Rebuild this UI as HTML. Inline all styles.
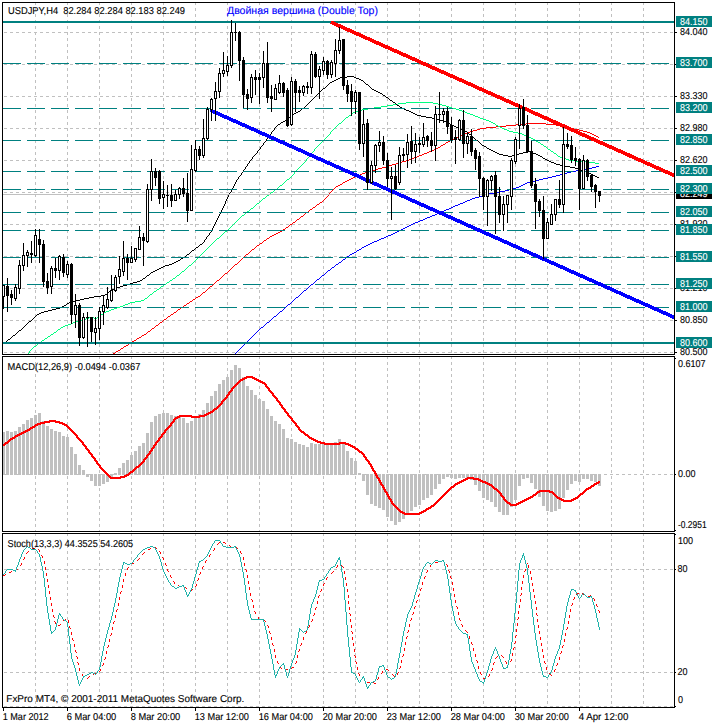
<!DOCTYPE html>
<html><head><meta charset="utf-8"><title>USDJPY,H4</title>
<style>html,body{margin:0;padding:0;background:#fff}svg{display:block}text{font-family:"Liberation Sans",sans-serif;text-rendering:geometricPrecision}</style></head><body>
<svg width="712" height="724" viewBox="0 0 712 724">
<rect width="712" height="724" fill="#fff"/>
<g shape-rendering="crispEdges" stroke="#c0c0c0" stroke-width="1" stroke-dasharray="3 3" fill="none">
<path d="M35.5 2V354"/>
<path d="M67.5 2V354"/>
<path d="M99.5 2V354"/>
<path d="M131.5 2V354"/>
<path d="M163.5 2V354"/>
<path d="M195.5 2V354"/>
<path d="M227.5 2V354"/>
<path d="M259.5 2V354"/>
<path d="M291.5 2V354"/>
<path d="M323.5 2V354"/>
<path d="M355.5 2V354"/>
<path d="M387.5 2V354"/>
<path d="M419.5 2V354"/>
<path d="M451.5 2V354"/>
<path d="M483.5 2V354"/>
<path d="M515.5 2V354"/>
<path d="M547.5 2V354"/>
<path d="M579.5 2V354"/>
<path d="M611.5 2V354"/>
<path d="M643.5 2V354"/>
<path d="M35.5 356V531"/>
<path d="M67.5 356V531"/>
<path d="M99.5 356V531"/>
<path d="M131.5 356V531"/>
<path d="M163.5 356V531"/>
<path d="M195.5 356V531"/>
<path d="M227.5 356V531"/>
<path d="M259.5 356V531"/>
<path d="M291.5 356V531"/>
<path d="M323.5 356V531"/>
<path d="M355.5 356V531"/>
<path d="M387.5 356V531"/>
<path d="M419.5 356V531"/>
<path d="M451.5 356V531"/>
<path d="M483.5 356V531"/>
<path d="M515.5 356V531"/>
<path d="M547.5 356V531"/>
<path d="M579.5 356V531"/>
<path d="M611.5 356V531"/>
<path d="M643.5 356V531"/>
<path d="M35.5 533V707"/>
<path d="M67.5 533V707"/>
<path d="M99.5 533V707"/>
<path d="M131.5 533V707"/>
<path d="M163.5 533V707"/>
<path d="M195.5 533V707"/>
<path d="M227.5 533V707"/>
<path d="M259.5 533V707"/>
<path d="M291.5 533V707"/>
<path d="M323.5 533V707"/>
<path d="M355.5 533V707"/>
<path d="M387.5 533V707"/>
<path d="M419.5 533V707"/>
<path d="M451.5 533V707"/>
<path d="M483.5 533V707"/>
<path d="M515.5 533V707"/>
<path d="M547.5 533V707"/>
<path d="M579.5 533V707"/>
<path d="M611.5 533V707"/>
<path d="M643.5 533V707"/>
<path d="M4 32.5H674"/>
<path d="M4 64.5H674"/>
<path d="M4 96.5H674"/>
<path d="M4 128.5H674"/>
<path d="M4 160.5H674"/>
<path d="M4 192.5H674"/>
<path d="M4 224.5H674"/>
<path d="M4 256.5H674"/>
<path d="M4 288.5H674"/>
<path d="M4 320.5H674"/>
<path d="M4 352.5H674"/>
<path d="M4 474.5H674"/>
<path d="M4 569.5H674"/>
<path d="M4 672.5H674"/>
<path d="M4 706.5H674"/>
</g>
<g shape-rendering="crispEdges">
<path fill="#0000ff" d="M596 166h3v1h-3zM592 167h4v1h-4zM587 168h5v1h-5zM582 169h5v1h-5zM576 170h6v1h-6zM571 171h5v1h-5zM567 172h4v1h-4zM563 173h4v1h-4zM560 174h3v1h-3zM556 175h4v1h-4zM552 176h4v1h-4zM548 177h4v1h-4zM543 178h5v1h-5zM539 179h4v1h-4zM535 180h4v1h-4zM531 181h4v1h-4zM527 182h4v1h-4zM525 183h2v1h-2zM523 184h2v1h-2zM521 185h2v1h-2zM519 186h2v1h-2zM516 187h3v1h-3zM512 188h4v1h-4zM509 189h3v1h-3zM505 190h4v1h-4zM500 191h5v1h-5zM494 192h6v1h-6zM489 193h5v1h-5zM485 194h4v1h-4zM482 195h3v1h-3zM479 196h3v1h-3zM475 197h4v1h-4zM472 198h3v1h-3zM470 199h2v1h-2zM467 200h3v1h-3zM465 201h2v1h-2zM463 202h2v1h-2zM460 203h3v1h-3zM458 204h2v1h-2zM455 205h3v1h-3zM453 206h2v1h-2zM451 207h2v1h-2zM449 208h2v1h-2zM446 209h3v1h-3zM444 210h2v1h-2zM442 211h2v1h-2zM439 212h3v1h-3zM437 213h2v1h-2zM435 214h2v1h-2zM432 215h3v1h-3zM430 216h2v1h-2zM427 217h3v1h-3zM425 218h2v1h-2zM423 219h2v1h-2zM420 220h3v1h-3zM418 221h2v1h-2zM415 222h3v1h-3zM413 223h2v1h-2zM411 224h2v1h-2zM409 225h2v1h-2zM407 226h2v1h-2zM405 227h2v1h-2zM403 228h2v1h-2zM401 229h2v1h-2zM399 230h2v1h-2zM397 231h2v1h-2zM395 232h2v1h-2zM393 233h2v1h-2zM391 234h2v1h-2zM388 235h3v1h-3zM386 236h2v1h-2zM384 237h2v1h-2zM381 238h3v1h-3zM379 239h2v1h-2zM377 240h2v1h-2zM374 241h3v1h-3zM372 242h2v1h-2zM370 243h2v1h-2zM368 244h2v1h-2zM366 245h2v1h-2zM364 246h2v1h-2zM362 247h2v1h-2zM361 248h1v1h-1zM359 249h2v1h-2zM357 250h2v1h-2zM356 251h1v1h-1zM354 252h2v1h-2zM352 253h2v1h-2zM350 254h2v1h-2zM349 255h1v1h-1zM347 256h2v1h-2zM346 257h1v1h-1zM345 258h1v1h-1zM343 259h2v1h-2zM342 260h1v1h-1zM341 261h1v1h-1zM339 262h2v1h-2zM338 263h1v1h-1zM336 264h2v1h-2zM335 265h1v1h-1zM334 266h1v1h-1zM332 267h2v1h-2zM331 268h1v1h-1zM330 269h1v1h-1zM328 270h2v1h-2zM327 271h1v1h-1zM326 272h1v1h-1zM325 273h1v1h-1zM324 274h1v1h-1zM322 275h2v1h-2zM321 276h1v1h-1zM320 277h1v1h-1zM319 278h1v1h-1zM317 279h2v1h-2zM316 280h1v1h-1zM315 281h1v1h-1zM314 282h1v1h-1zM313 283h1v1h-1zM311 284h2v1h-2zM310 285h1v1h-1zM309 286h1v1h-1zM308 287h1v1h-1zM307 288h1v1h-1zM306 289h1v1h-1zM304 290h2v1h-2zM303 291h1v1h-1zM302 292h1v1h-1zM301 293h1v1h-1zM300 294h1v1h-1zM299 295h1v1h-1zM298 296h1v1h-1zM296 297h2v1h-2zM295 298h1v1h-1zM294 299h1v1h-1zM293 300h1v1h-1zM292 301h1v1h-1zM291 302h1v1h-1zM290 303h1v1h-1zM288 304h2v1h-2zM287 305h1v1h-1zM286 306h1v1h-1zM285 307h1v1h-1zM284 308h1v1h-1zM283 309h1v1h-1zM282 310h1v1h-1zM280 311h2v1h-2zM279 312h1v1h-1zM278 313h1v1h-1zM277 314h1v1h-1zM276 315h1v1h-1zM274 316h2v1h-2zM273 317h1v1h-1zM272 318h1v1h-1zM271 319h1v1h-1zM270 320h1v1h-1zM269 321h1v1h-1zM267 322h2v1h-2zM266 323h1v1h-1zM265 324h1v1h-1zM264 325h1v1h-1zM263 326h1v1h-1zM261 327h2v1h-2zM260 328h1v1h-1zM259 329h1v1h-1zM258 330h1v1h-1zM257 331h1v1h-1zM256 332h1v1h-1zM255 333h1v1h-1zM254 334h1v1h-1zM253 335h1v1h-1zM252 336h1v1h-1zM251 337h1v1h-1zM250 338h1v1h-1zM249 339h1v1h-1zM248 340h1v1h-1zM247 341h1v1h-1zM246 342h1v1h-1zM245 343h1v1h-1zM244 344h1v1h-1zM243 345h1v1h-1zM242 346h1v1h-1zM241 347h1v1h-1zM240 348h1v1h-1zM239 349h1v1h-1zM238 350h1v1h-1zM237 351h1v1h-1zM236 352h1v1h-1zM235 353h1v1h-1z"/>
<path fill="#ff0000" d="M526 123h20v1h-20zM516 124h10v1h-10zM546 124h10v1h-10zM506 125h10v1h-10zM556 125h6v1h-6zM496 126h10v1h-10zM562 126h4v1h-4zM486 127h10v1h-10zM566 127h3v1h-3zM480 128h6v1h-6zM569 128h4v1h-4zM477 129h3v1h-3zM573 129h6v1h-6zM473 130h4v1h-4zM579 130h4v1h-4zM470 131h3v1h-3zM583 131h4v1h-4zM467 132h3v1h-3zM587 132h3v1h-3zM465 133h2v1h-2zM590 133h2v1h-2zM462 134h3v1h-3zM592 134h2v1h-2zM460 135h2v1h-2zM594 135h2v1h-2zM458 136h2v1h-2zM596 136h2v1h-2zM456 137h2v1h-2zM598 137h1v1h-1zM454 138h2v1h-2zM452 139h2v1h-2zM450 140h2v1h-2zM448 141h2v1h-2zM446 142h2v1h-2zM445 143h1v1h-1zM443 144h2v1h-2zM441 145h2v1h-2zM440 146h1v1h-1zM438 147h2v1h-2zM436 148h2v1h-2zM434 149h2v1h-2zM432 150h2v1h-2zM429 151h3v1h-3zM427 152h2v1h-2zM424 153h3v1h-3zM422 154h2v1h-2zM419 155h3v1h-3zM417 156h2v1h-2zM414 157h3v1h-3zM412 158h2v1h-2zM409 159h3v1h-3zM406 160h3v1h-3zM402 161h4v1h-4zM399 162h3v1h-3zM396 163h3v1h-3zM392 164h4v1h-4zM389 165h3v1h-3zM386 166h3v1h-3zM382 167h4v1h-4zM378 168h4v1h-4zM375 169h3v1h-3zM372 170h3v1h-3zM368 171h4v1h-4zM365 172h3v1h-3zM362 173h3v1h-3zM360 174h2v1h-2zM357 175h3v1h-3zM355 176h2v1h-2zM353 177h2v1h-2zM351 178h2v1h-2zM349 179h2v1h-2zM347 180h2v1h-2zM345 181h2v1h-2zM343 182h2v1h-2zM342 183h1v1h-1zM340 184h2v1h-2zM338 185h2v1h-2zM336 186h2v1h-2zM335 187h1v1h-1zM334 188h1v1h-1zM333 189h1v1h-1zM332 190h1v1h-1zM331 191h1v1h-1zM330 192h1v1h-1zM329 193h1v1h-1zM328 194h1v1h-1zM328 195h1v1h-1zM327 196h1v1h-1zM326 197h1v1h-1zM325 198h1v1h-1zM324 199h1v1h-1zM323 200h1v1h-1zM322 201h1v1h-1zM320 202h2v1h-2zM319 203h1v1h-1zM317 204h2v1h-2zM316 205h1v1h-1zM315 206h1v1h-1zM313 207h2v1h-2zM312 208h1v1h-1zM310 209h2v1h-2zM309 210h1v1h-1zM308 211h1v1h-1zM306 212h2v1h-2zM305 213h1v1h-1zM304 214h1v1h-1zM303 215h1v1h-1zM301 216h2v1h-2zM300 217h1v1h-1zM299 218h1v1h-1zM297 219h2v1h-2zM296 220h1v1h-1zM295 221h1v1h-1zM293 222h2v1h-2zM292 223h1v1h-1zM290 224h2v1h-2zM289 225h1v1h-1zM288 226h1v1h-1zM286 227h2v1h-2zM285 228h1v1h-1zM283 229h2v1h-2zM282 230h1v1h-1zM280 231h2v1h-2zM278 232h2v1h-2zM276 233h2v1h-2zM274 234h2v1h-2zM272 235h2v1h-2zM270 236h2v1h-2zM269 237h1v1h-1zM267 238h2v1h-2zM266 239h1v1h-1zM264 240h2v1h-2zM263 241h1v1h-1zM262 242h1v1h-1zM260 243h2v1h-2zM259 244h1v1h-1zM257 245h2v1h-2zM256 246h1v1h-1zM255 247h1v1h-1zM254 248h1v1h-1zM252 249h2v1h-2zM251 250h1v1h-1zM250 251h1v1h-1zM249 252h1v1h-1zM248 253h1v1h-1zM246 254h2v1h-2zM245 255h1v1h-1zM244 256h1v1h-1zM243 257h1v1h-1zM242 258h1v1h-1zM241 259h1v1h-1zM240 260h1v1h-1zM239 261h1v1h-1zM238 262h1v1h-1zM237 263h1v1h-1zM235 264h2v1h-2zM234 265h1v1h-1zM233 266h1v1h-1zM232 267h1v1h-1zM231 268h1v1h-1zM230 269h1v1h-1zM229 270h1v1h-1zM228 271h1v1h-1zM227 272h1v1h-1zM225 273h2v1h-2zM224 274h1v1h-1zM223 275h1v1h-1zM222 276h1v1h-1zM221 277h1v1h-1zM220 278h1v1h-1zM219 279h1v1h-1zM217 280h2v1h-2zM216 281h1v1h-1zM215 282h1v1h-1zM214 283h1v1h-1zM213 284h1v1h-1zM212 285h1v1h-1zM210 286h2v1h-2zM209 287h1v1h-1zM208 288h1v1h-1zM207 289h1v1h-1zM206 290h1v1h-1zM205 291h1v1h-1zM203 292h2v1h-2zM202 293h1v1h-1zM201 294h1v1h-1zM200 295h1v1h-1zM198 296h2v1h-2zM196 297h2v1h-2zM195 298h1v1h-1zM193 299h2v1h-2zM192 300h1v1h-1zM190 301h2v1h-2zM189 302h1v1h-1zM187 303h2v1h-2zM186 304h1v1h-1zM184 305h2v1h-2zM183 306h1v1h-1zM181 307h2v1h-2zM180 308h1v1h-1zM178 309h2v1h-2zM177 310h1v1h-1zM176 311h1v1h-1zM174 312h2v1h-2zM173 313h1v1h-1zM171 314h2v1h-2zM170 315h1v1h-1zM168 316h2v1h-2zM167 317h1v1h-1zM166 318h1v1h-1zM164 319h2v1h-2zM163 320h1v1h-1zM162 321h1v1h-1zM160 322h2v1h-2zM159 323h1v1h-1zM158 324h1v1h-1zM156 325h2v1h-2zM155 326h1v1h-1zM154 327h1v1h-1zM152 328h2v1h-2zM151 329h1v1h-1zM150 330h1v1h-1zM148 331h2v1h-2zM147 332h1v1h-1zM146 333h1v1h-1zM144 334h2v1h-2zM142 335h2v1h-2zM141 336h1v1h-1zM139 337h2v1h-2zM137 338h2v1h-2zM136 339h1v1h-1zM134 340h2v1h-2zM132 341h2v1h-2zM131 342h1v1h-1zM129 343h2v1h-2zM128 344h1v1h-1zM126 345h2v1h-2zM124 346h2v1h-2zM123 347h1v1h-1zM121 348h2v1h-2zM120 349h1v1h-1zM118 350h2v1h-2zM116 351h2v1h-2zM115 352h1v1h-1zM113 353h2v1h-2z"/>
<path fill="#00ff7f" d="M406 102h27v1h-27zM398 103h8v1h-8zM433 103h5v1h-5zM393 104h5v1h-5zM438 104h4v1h-4zM387 105h6v1h-6zM442 105h4v1h-4zM381 106h6v1h-6zM446 106h3v1h-3zM374 107h7v1h-7zM449 107h3v1h-3zM368 108h6v1h-6zM452 108h4v1h-4zM362 109h6v1h-6zM456 109h3v1h-3zM358 110h4v1h-4zM459 110h3v1h-3zM355 111h3v1h-3zM462 111h3v1h-3zM353 112h2v1h-2zM465 112h2v1h-2zM352 113h1v1h-1zM467 113h3v1h-3zM351 114h1v1h-1zM470 114h3v1h-3zM349 115h2v1h-2zM473 115h2v1h-2zM348 116h1v1h-1zM475 116h3v1h-3zM346 117h2v1h-2zM478 117h2v1h-2zM345 118h1v1h-1zM480 118h3v1h-3zM344 119h1v1h-1zM483 119h3v1h-3zM343 120h1v1h-1zM486 120h3v1h-3zM342 121h1v1h-1zM489 121h2v1h-2zM341 122h1v1h-1zM491 122h2v1h-2zM339 123h2v1h-2zM493 123h2v1h-2zM338 124h1v1h-1zM495 124h1v1h-1zM337 125h1v1h-1zM496 125h2v1h-2zM336 126h1v1h-1zM498 126h2v1h-2zM335 127h1v1h-1zM500 127h2v1h-2zM334 128h1v1h-1zM502 128h2v1h-2zM333 129h1v1h-1zM504 129h3v1h-3zM332 130h1v1h-1zM507 130h2v1h-2zM331 131h1v1h-1zM509 131h4v1h-4zM330 132h1v1h-1zM513 132h5v1h-5zM330 133h1v1h-1zM518 133h4v1h-4zM329 134h1v1h-1zM522 134h2v1h-2zM328 135h1v1h-1zM524 135h3v1h-3zM327 136h1v1h-1zM527 136h2v1h-2zM326 137h1v1h-1zM529 137h2v1h-2zM325 138h1v1h-1zM531 138h2v1h-2zM324 139h1v1h-1zM533 139h2v1h-2zM323 140h1v1h-1zM535 140h1v1h-1zM322 141h1v1h-1zM536 141h2v1h-2zM321 142h1v1h-1zM538 142h2v1h-2zM320 143h1v1h-1zM540 143h1v1h-1zM319 144h1v1h-1zM541 144h2v1h-2zM318 145h1v1h-1zM543 145h1v1h-1zM317 146h1v1h-1zM544 146h2v1h-2zM316 147h1v1h-1zM546 147h1v1h-1zM315 148h1v1h-1zM547 148h1v1h-1zM314 149h1v1h-1zM548 149h2v1h-2zM314 150h1v1h-1zM550 150h1v1h-1zM313 151h1v1h-1zM551 151h2v1h-2zM312 152h1v1h-1zM553 152h1v1h-1zM311 153h1v1h-1zM554 153h2v1h-2zM310 154h1v1h-1zM556 154h1v1h-1zM309 155h1v1h-1zM557 155h1v1h-1zM309 156h1v1h-1zM558 156h2v1h-2zM308 157h1v1h-1zM560 157h2v1h-2zM307 158h1v1h-1zM562 158h4v1h-4zM306 159h1v1h-1zM566 159h3v1h-3zM306 160h1v1h-1zM569 160h7v1h-7zM305 161h1v1h-1zM576 161h11v1h-11zM304 162h1v1h-1zM587 162h8v1h-8zM303 163h1v1h-1zM595 163h4v1h-4zM302 164h1v1h-1zM301 165h1v1h-1zM300 166h1v1h-1zM299 167h1v1h-1zM298 168h1v1h-1zM297 169h1v1h-1zM296 170h1v1h-1zM295 171h1v1h-1zM294 172h1v1h-1zM294 173h1v1h-1zM293 174h1v1h-1zM292 175h1v1h-1zM291 176h1v1h-1zM290 177h1v1h-1zM289 178h1v1h-1zM287 179h2v1h-2zM286 180h1v1h-1zM285 181h1v1h-1zM284 182h1v1h-1zM283 183h1v1h-1zM282 184h1v1h-1zM280 185h2v1h-2zM279 186h1v1h-1zM278 187h1v1h-1zM277 188h1v1h-1zM275 189h2v1h-2zM274 190h1v1h-1zM273 191h1v1h-1zM271 192h2v1h-2zM270 193h1v1h-1zM269 194h1v1h-1zM267 195h2v1h-2zM266 196h1v1h-1zM265 197h1v1h-1zM263 198h2v1h-2zM262 199h1v1h-1zM261 200h1v1h-1zM260 201h1v1h-1zM259 202h1v1h-1zM257 203h2v1h-2zM256 204h1v1h-1zM255 205h1v1h-1zM254 206h1v1h-1zM253 207h1v1h-1zM251 208h2v1h-2zM250 209h1v1h-1zM249 210h1v1h-1zM247 211h2v1h-2zM246 212h1v1h-1zM245 213h1v1h-1zM244 214h1v1h-1zM242 215h2v1h-2zM241 216h1v1h-1zM240 217h1v1h-1zM239 218h1v1h-1zM238 219h1v1h-1zM237 220h1v1h-1zM236 221h1v1h-1zM235 222h1v1h-1zM234 223h1v1h-1zM233 224h1v1h-1zM232 225h1v1h-1zM231 226h1v1h-1zM230 227h1v1h-1zM229 228h1v1h-1zM228 229h1v1h-1zM227 230h1v1h-1zM225 231h2v1h-2zM224 232h1v1h-1zM223 233h1v1h-1zM222 234h1v1h-1zM221 235h1v1h-1zM220 236h1v1h-1zM219 237h1v1h-1zM217 238h2v1h-2zM216 239h1v1h-1zM215 240h1v1h-1zM214 241h1v1h-1zM213 242h1v1h-1zM212 243h1v1h-1zM211 244h1v1h-1zM210 245h1v1h-1zM209 246h1v1h-1zM208 247h1v1h-1zM207 248h1v1h-1zM206 249h1v1h-1zM205 250h1v1h-1zM204 251h1v1h-1zM203 252h1v1h-1zM202 253h1v1h-1zM201 254h1v1h-1zM200 255h1v1h-1zM199 256h1v1h-1zM198 257h1v1h-1zM197 258h1v1h-1zM196 259h1v1h-1zM195 260h1v1h-1zM194 261h1v1h-1zM193 262h1v1h-1zM192 263h1v1h-1zM191 264h1v1h-1zM189 265h2v1h-2zM188 266h1v1h-1zM187 267h1v1h-1zM186 268h1v1h-1zM185 269h1v1h-1zM184 270h1v1h-1zM182 271h2v1h-2zM181 272h1v1h-1zM180 273h1v1h-1zM179 274h1v1h-1zM177 275h2v1h-2zM176 276h1v1h-1zM175 277h1v1h-1zM173 278h2v1h-2zM172 279h1v1h-1zM170 280h2v1h-2zM169 281h1v1h-1zM167 282h2v1h-2zM166 283h1v1h-1zM164 284h2v1h-2zM163 285h1v1h-1zM161 286h2v1h-2zM160 287h1v1h-1zM159 288h1v1h-1zM157 289h2v1h-2zM156 290h1v1h-1zM154 291h2v1h-2zM153 292h1v1h-1zM152 293h1v1h-1zM150 294h2v1h-2zM149 295h1v1h-1zM148 296h1v1h-1zM147 297h1v1h-1zM145 298h2v1h-2zM144 299h1v1h-1zM141 300h3v1h-3zM135 301h6v1h-6zM130 302h5v1h-5zM128 303h2v1h-2zM125 304h3v1h-3zM123 305h2v1h-2zM120 306h3v1h-3zM117 307h3v1h-3zM114 308h3v1h-3zM111 309h3v1h-3zM109 310h2v1h-2zM106 311h3v1h-3zM104 312h2v1h-2zM103 313h1v1h-1zM101 314h2v1h-2zM100 315h1v1h-1zM99 316h1v1h-1zM89 317h5v1h-5zM97 317h2v1h-2zM86 318h3v1h-3zM94 318h3v1h-3zM82 319h4v1h-4zM79 320h3v1h-3zM76 321h3v1h-3zM73 322h3v1h-3zM71 323h2v1h-2zM68 324h3v1h-3zM65 325h3v1h-3zM63 326h2v1h-2zM61 327h2v1h-2zM60 328h1v1h-1zM58 329h2v1h-2zM57 330h1v1h-1zM56 331h1v1h-1zM54 332h2v1h-2zM53 333h1v1h-1zM51 334h2v1h-2zM50 335h1v1h-1zM48 336h2v1h-2zM47 337h1v1h-1zM45 338h2v1h-2zM44 339h1v1h-1zM42 340h2v1h-2zM41 341h1v1h-1zM39 342h2v1h-2zM38 343h1v1h-1zM37 344h1v1h-1zM36 345h1v1h-1zM34 346h2v1h-2zM33 347h1v1h-1zM32 348h1v1h-1zM31 349h1v1h-1zM30 350h1v1h-1zM29 351h1v1h-1zM29 352h1v1h-1zM28 353h1v1h-1z"/>
<path fill="#000000" d="M347 76h7v1h-7zM340 77h7v1h-7zM354 77h2v1h-2zM338 78h2v1h-2zM356 78h3v1h-3zM336 79h2v1h-2zM359 79h2v1h-2zM334 80h2v1h-2zM361 80h2v1h-2zM332 81h2v1h-2zM363 81h1v1h-1zM330 82h2v1h-2zM364 82h1v1h-1zM329 83h1v1h-1zM365 83h1v1h-1zM328 84h1v1h-1zM366 84h2v1h-2zM327 85h1v1h-1zM368 85h1v1h-1zM326 86h1v1h-1zM369 86h1v1h-1zM325 87h1v1h-1zM370 87h1v1h-1zM323 88h2v1h-2zM371 88h1v1h-1zM322 89h1v1h-1zM372 89h2v1h-2zM321 90h1v1h-1zM374 90h2v1h-2zM320 91h1v1h-1zM376 91h2v1h-2zM319 92h1v1h-1zM378 92h2v1h-2zM318 93h1v1h-1zM380 93h2v1h-2zM317 94h1v1h-1zM382 94h1v1h-1zM316 95h1v1h-1zM383 95h2v1h-2zM315 96h1v1h-1zM385 96h1v1h-1zM314 97h1v1h-1zM386 97h2v1h-2zM313 98h1v1h-1zM388 98h1v1h-1zM312 99h1v1h-1zM389 99h1v1h-1zM311 100h1v1h-1zM390 100h2v1h-2zM310 101h1v1h-1zM392 101h1v1h-1zM309 102h1v1h-1zM393 102h2v1h-2zM308 103h1v1h-1zM395 103h1v1h-1zM307 104h1v1h-1zM396 104h1v1h-1zM306 105h1v1h-1zM397 105h2v1h-2zM305 106h1v1h-1zM399 106h1v1h-1zM304 107h1v1h-1zM400 107h2v1h-2zM302 108h2v1h-2zM402 108h2v1h-2zM301 109h1v1h-1zM404 109h2v1h-2zM300 110h1v1h-1zM406 110h3v1h-3zM298 111h2v1h-2zM409 111h2v1h-2zM296 112h2v1h-2zM411 112h2v1h-2zM294 113h2v1h-2zM413 113h2v1h-2zM293 114h1v1h-1zM415 114h2v1h-2zM292 115h1v1h-1zM417 115h4v1h-4zM290 116h2v1h-2zM421 116h5v1h-5zM289 117h1v1h-1zM426 117h6v1h-6zM288 118h1v1h-1zM432 118h5v1h-5zM287 119h1v1h-1zM437 119h3v1h-3zM285 120h2v1h-2zM440 120h3v1h-3zM283 121h2v1h-2zM443 121h3v1h-3zM281 122h2v1h-2zM446 122h2v1h-2zM280 123h1v1h-1zM448 123h2v1h-2zM278 124h2v1h-2zM450 124h2v1h-2zM277 125h1v1h-1zM452 125h2v1h-2zM276 126h1v1h-1zM454 126h2v1h-2zM275 127h1v1h-1zM456 127h2v1h-2zM274 128h1v1h-1zM458 128h3v1h-3zM274 129h1v1h-1zM461 129h2v1h-2zM273 130h1v1h-1zM463 130h2v1h-2zM272 131h1v1h-1zM465 131h2v1h-2zM271 132h1v1h-1zM467 132h1v1h-1zM271 133h1v1h-1zM468 133h1v1h-1zM270 134h1v1h-1zM469 134h2v1h-2zM269 135h1v1h-1zM471 135h1v1h-1zM268 136h1v1h-1zM472 136h1v1h-1zM268 137h1v1h-1zM473 137h1v1h-1zM267 138h1v1h-1zM474 138h1v1h-1zM266 139h1v1h-1zM475 139h1v1h-1zM266 140h1v1h-1zM476 140h2v1h-2zM265 141h1v1h-1zM478 141h1v1h-1zM264 142h1v1h-1zM479 142h1v1h-1zM263 143h1v1h-1zM480 143h1v1h-1zM263 144h1v1h-1zM481 144h1v1h-1zM262 145h1v1h-1zM482 145h2v1h-2zM261 146h1v1h-1zM484 146h2v1h-2zM260 147h1v1h-1zM486 147h1v1h-1zM260 148h1v1h-1zM487 148h2v1h-2zM259 149h1v1h-1zM489 149h2v1h-2zM258 150h1v1h-1zM491 150h2v1h-2zM257 151h1v1h-1zM493 151h2v1h-2zM527 151h3v1h-3zM257 152h1v1h-1zM495 152h2v1h-2zM523 152h4v1h-4zM530 152h3v1h-3zM256 153h1v1h-1zM497 153h2v1h-2zM519 153h4v1h-4zM533 153h3v1h-3zM255 154h1v1h-1zM499 154h4v1h-4zM516 154h3v1h-3zM536 154h2v1h-2zM254 155h1v1h-1zM503 155h5v1h-5zM512 155h4v1h-4zM538 155h2v1h-2zM253 156h1v1h-1zM508 156h4v1h-4zM540 156h2v1h-2zM252 157h1v1h-1zM542 157h1v1h-1zM252 158h1v1h-1zM543 158h2v1h-2zM251 159h1v1h-1zM545 159h2v1h-2zM250 160h1v1h-1zM547 160h2v1h-2zM249 161h1v1h-1zM549 161h2v1h-2zM249 162h1v1h-1zM551 162h3v1h-3zM248 163h1v1h-1zM554 163h2v1h-2zM247 164h1v1h-1zM556 164h4v1h-4zM247 165h1v1h-1zM560 165h5v1h-5zM246 166h1v1h-1zM565 166h5v1h-5zM245 167h1v1h-1zM570 167h5v1h-5zM245 168h1v1h-1zM575 168h4v1h-4zM244 169h1v1h-1zM579 169h2v1h-2zM243 170h1v1h-1zM581 170h3v1h-3zM243 171h1v1h-1zM584 171h2v1h-2zM242 172h1v1h-1zM586 172h3v1h-3zM241 173h1v1h-1zM589 173h2v1h-2zM241 174h1v1h-1zM591 174h2v1h-2zM240 175h1v1h-1zM593 175h2v1h-2zM239 176h1v1h-1zM595 176h2v1h-2zM238 177h1v1h-1zM597 177h2v1h-2zM238 178h1v1h-1zM237 179h1v1h-1zM236 180h1v1h-1zM236 181h1v1h-1zM235 182h1v1h-1zM235 183h1v1h-1zM234 184h1v1h-1zM234 185h1v1h-1zM233 186h1v1h-1zM233 187h1v1h-1zM232 188h1v1h-1zM232 189h1v1h-1zM231 190h1v1h-1zM231 191h1v1h-1zM230 192h1v1h-1zM229 193h1v1h-1zM229 194h1v1h-1zM228 195h1v1h-1zM228 196h1v1h-1zM227 197h1v1h-1zM227 198h1v1h-1zM226 199h1v1h-1zM226 200h1v1h-1zM225 201h1v1h-1zM225 202h1v1h-1zM225 203h1v1h-1zM224 204h1v1h-1zM224 205h1v1h-1zM223 206h1v1h-1zM223 207h1v1h-1zM222 208h1v1h-1zM222 209h1v1h-1zM221 210h1v1h-1zM221 211h1v1h-1zM220 212h1v1h-1zM220 213h1v1h-1zM219 214h1v1h-1zM219 215h1v1h-1zM218 216h1v1h-1zM218 217h1v1h-1zM217 218h1v1h-1zM217 219h1v1h-1zM216 220h1v1h-1zM216 221h1v1h-1zM215 222h1v1h-1zM215 223h1v1h-1zM214 224h1v1h-1zM214 225h1v1h-1zM213 226h1v1h-1zM213 227h1v1h-1zM212 228h1v1h-1zM212 229h1v1h-1zM211 230h1v1h-1zM211 231h1v1h-1zM210 232h1v1h-1zM209 233h1v1h-1zM209 234h1v1h-1zM208 235h1v1h-1zM207 236h1v1h-1zM206 237h1v1h-1zM206 238h1v1h-1zM205 239h1v1h-1zM204 240h1v1h-1zM204 241h1v1h-1zM203 242h1v1h-1zM202 243h1v1h-1zM200 244h2v1h-2zM199 245h1v1h-1zM198 246h1v1h-1zM196 247h2v1h-2zM195 248h1v1h-1zM194 249h1v1h-1zM192 250h2v1h-2zM191 251h1v1h-1zM190 252h1v1h-1zM189 253h1v1h-1zM187 254h2v1h-2zM186 255h1v1h-1zM185 256h1v1h-1zM183 257h2v1h-2zM181 258h2v1h-2zM180 259h1v1h-1zM178 260h2v1h-2zM176 261h2v1h-2zM174 262h2v1h-2zM172 263h2v1h-2zM169 264h3v1h-3zM165 265h4v1h-4zM163 266h2v1h-2zM161 267h2v1h-2zM159 268h2v1h-2zM157 269h2v1h-2zM155 270h2v1h-2zM153 271h2v1h-2zM151 272h2v1h-2zM150 273h1v1h-1zM149 274h1v1h-1zM147 275h2v1h-2zM146 276h1v1h-1zM145 277h1v1h-1zM143 278h2v1h-2zM142 279h1v1h-1zM140 280h2v1h-2zM137 281h3v1h-3zM133 282h4v1h-4zM130 283h3v1h-3zM127 284h3v1h-3zM123 285h4v1h-4zM120 286h3v1h-3zM117 287h3v1h-3zM114 288h3v1h-3zM112 289h2v1h-2zM111 290h1v1h-1zM109 291h2v1h-2zM108 292h1v1h-1zM107 293h1v1h-1zM105 294h2v1h-2zM101 295h4v1h-4zM94 296h7v1h-7zM89 297h5v1h-5zM84 298h5v1h-5zM80 299h4v1h-4zM76 300h4v1h-4zM72 301h4v1h-4zM69 302h3v1h-3zM67 303h2v1h-2zM66 304h1v1h-1zM64 305h2v1h-2zM62 306h2v1h-2zM60 307h2v1h-2zM56 308h4v1h-4zM52 309h4v1h-4zM48 310h4v1h-4zM44 311h4v1h-4zM41 312h3v1h-3zM39 313h2v1h-2zM37 314h2v1h-2zM36 315h1v1h-1zM35 316h1v1h-1zM34 317h1v1h-1zM33 318h1v1h-1zM32 319h1v1h-1zM31 320h1v1h-1zM29 321h2v1h-2zM28 322h1v1h-1zM27 323h1v1h-1zM26 324h1v1h-1zM25 325h1v1h-1zM24 326h1v1h-1zM23 327h1v1h-1zM22 328h1v1h-1zM21 329h1v1h-1zM19 330h2v1h-2zM18 331h1v1h-1zM17 332h1v1h-1zM16 333h1v1h-1zM15 334h1v1h-1zM13 335h2v1h-2zM12 336h1v1h-1zM11 337h1v1h-1zM10 338h1v1h-1zM8 339h2v1h-2zM7 340h1v1h-1zM6 341h1v1h-1zM4 342h2v1h-2zM3 343h1v1h-1z"/>
</g>
<g shape-rendering="crispEdges" stroke="#008080" fill="none">
<path d="M3 22H674" stroke-width="2"/>
<path d="M3 343H674" stroke-width="2"/>
<path d="M3 63.5H674" stroke-width="1" stroke-dasharray="18 6"/>
<path d="M3 108.5H674" stroke-width="1" stroke-dasharray="18 6"/>
<path d="M3 140.5H674" stroke-width="1" stroke-dasharray="18 6"/>
<path d="M3 171.5H674" stroke-width="1" stroke-dasharray="18 6"/>
<path d="M3 189.5H674" stroke-width="1" stroke-dasharray="18 6"/>
<path d="M3 212.5H674" stroke-width="1" stroke-dasharray="18 6"/>
<path d="M3 230.5H674" stroke-width="1" stroke-dasharray="18 6"/>
<path d="M3 257.5H674" stroke-width="1" stroke-dasharray="18 6"/>
<path d="M3 284.5H674" stroke-width="1" stroke-dasharray="18 6"/>
<path d="M3 307.5H674" stroke-width="1" stroke-dasharray="18 6"/>
</g>
<path d="M3 194.5H674" stroke="#c0c0c0" stroke-width="1" shape-rendering="crispEdges"/>
<g shape-rendering="crispEdges" fill="none" stroke-width="3">
<path d="M210.5 110.3L674.5 317.5" stroke="#0000ff" stroke-width="3.65"/>
<path d="M331 22.2L674.5 175.6" stroke="#ff0000" stroke-width="3.65"/>
</g>
<g shape-rendering="crispEdges">
<rect x="3" y="285" width="1" height="24" fill="#000"/>
<rect x="2" y="285" width="3" height="12" fill="#000"/>
<rect x="3" y="286" width="1" height="10" fill="#fff"/>
<rect x="7" y="278" width="1" height="34" fill="#000"/>
<rect x="6" y="286" width="3" height="10" fill="#000"/>
<rect x="11" y="290" width="1" height="15" fill="#000"/>
<rect x="10" y="294" width="3" height="4" fill="#000"/>
<rect x="15" y="284" width="1" height="17" fill="#000"/>
<rect x="14" y="287" width="3" height="12" fill="#000"/>
<rect x="15" y="288" width="1" height="10" fill="#fff"/>
<rect x="19" y="260" width="1" height="34" fill="#000"/>
<rect x="18" y="265" width="3" height="24" fill="#000"/>
<rect x="19" y="266" width="1" height="22" fill="#fff"/>
<rect x="23" y="243" width="1" height="28" fill="#000"/>
<rect x="22" y="255" width="3" height="11" fill="#000"/>
<rect x="23" y="256" width="1" height="9" fill="#fff"/>
<rect x="27" y="250" width="1" height="17" fill="#000"/>
<rect x="26" y="252" width="3" height="4" fill="#000"/>
<rect x="27" y="253" width="1" height="2" fill="#fff"/>
<rect x="31" y="241" width="1" height="22" fill="#000"/>
<rect x="30" y="253" width="3" height="2" fill="#000"/>
<rect x="35" y="229" width="1" height="28" fill="#000"/>
<rect x="34" y="235" width="3" height="21" fill="#000"/>
<rect x="35" y="236" width="1" height="19" fill="#fff"/>
<rect x="39" y="229" width="1" height="34" fill="#000"/>
<rect x="38" y="239" width="3" height="6" fill="#000"/>
<rect x="43" y="240" width="1" height="47" fill="#000"/>
<rect x="42" y="244" width="3" height="38" fill="#000"/>
<rect x="47" y="273" width="1" height="21" fill="#000"/>
<rect x="46" y="281" width="3" height="7" fill="#000"/>
<rect x="51" y="266" width="1" height="28" fill="#000"/>
<rect x="50" y="268" width="3" height="19" fill="#000"/>
<rect x="51" y="269" width="1" height="17" fill="#fff"/>
<rect x="55" y="258" width="1" height="20" fill="#000"/>
<rect x="54" y="268" width="3" height="3" fill="#000"/>
<rect x="59" y="255" width="1" height="25" fill="#000"/>
<rect x="58" y="256" width="3" height="15" fill="#000"/>
<rect x="59" y="257" width="1" height="13" fill="#fff"/>
<rect x="63" y="254" width="1" height="23" fill="#000"/>
<rect x="62" y="257" width="3" height="16" fill="#000"/>
<rect x="67" y="261" width="1" height="17" fill="#000"/>
<rect x="66" y="264" width="3" height="11" fill="#000"/>
<rect x="67" y="265" width="1" height="9" fill="#fff"/>
<rect x="71" y="263" width="1" height="61" fill="#000"/>
<rect x="70" y="264" width="3" height="51" fill="#000"/>
<rect x="75" y="294" width="1" height="34" fill="#000"/>
<rect x="74" y="305" width="3" height="10" fill="#000"/>
<rect x="75" y="306" width="1" height="8" fill="#fff"/>
<rect x="79" y="303" width="1" height="43" fill="#000"/>
<rect x="78" y="305" width="3" height="33" fill="#000"/>
<rect x="83" y="313" width="1" height="26" fill="#000"/>
<rect x="82" y="317" width="3" height="21" fill="#000"/>
<rect x="83" y="318" width="1" height="19" fill="#fff"/>
<rect x="87" y="312" width="1" height="35" fill="#000"/>
<rect x="86" y="317" width="3" height="1" fill="#000"/>
<rect x="91" y="317" width="1" height="25" fill="#000"/>
<rect x="90" y="317" width="3" height="15" fill="#000"/>
<rect x="95" y="317" width="1" height="28" fill="#000"/>
<rect x="94" y="328" width="3" height="5" fill="#000"/>
<rect x="95" y="329" width="1" height="3" fill="#fff"/>
<rect x="99" y="307" width="1" height="33" fill="#000"/>
<rect x="98" y="311" width="3" height="18" fill="#000"/>
<rect x="99" y="312" width="1" height="16" fill="#fff"/>
<rect x="103" y="295" width="1" height="30" fill="#000"/>
<rect x="102" y="305" width="3" height="7" fill="#000"/>
<rect x="103" y="306" width="1" height="5" fill="#fff"/>
<rect x="107" y="287" width="1" height="22" fill="#000"/>
<rect x="106" y="299" width="3" height="9" fill="#000"/>
<rect x="107" y="300" width="1" height="7" fill="#fff"/>
<rect x="111" y="275" width="1" height="27" fill="#000"/>
<rect x="110" y="290" width="3" height="11" fill="#000"/>
<rect x="111" y="291" width="1" height="9" fill="#fff"/>
<rect x="115" y="275" width="1" height="17" fill="#000"/>
<rect x="114" y="277" width="3" height="14" fill="#000"/>
<rect x="115" y="278" width="1" height="12" fill="#fff"/>
<rect x="119" y="256" width="1" height="28" fill="#000"/>
<rect x="118" y="269" width="3" height="8" fill="#000"/>
<rect x="119" y="270" width="1" height="6" fill="#fff"/>
<rect x="123" y="241" width="1" height="35" fill="#000"/>
<rect x="122" y="258" width="3" height="14" fill="#000"/>
<rect x="123" y="259" width="1" height="12" fill="#fff"/>
<rect x="127" y="254" width="1" height="26" fill="#000"/>
<rect x="126" y="258" width="3" height="5" fill="#000"/>
<rect x="131" y="246" width="1" height="17" fill="#000"/>
<rect x="130" y="258" width="3" height="5" fill="#000"/>
<rect x="131" y="259" width="1" height="3" fill="#fff"/>
<rect x="135" y="248" width="1" height="14" fill="#000"/>
<rect x="134" y="248" width="3" height="12" fill="#000"/>
<rect x="135" y="249" width="1" height="10" fill="#fff"/>
<rect x="139" y="226" width="1" height="24" fill="#000"/>
<rect x="138" y="237" width="3" height="13" fill="#000"/>
<rect x="139" y="238" width="1" height="11" fill="#fff"/>
<rect x="143" y="233" width="1" height="33" fill="#000"/>
<rect x="142" y="237" width="3" height="4" fill="#000"/>
<rect x="147" y="184" width="1" height="59" fill="#000"/>
<rect x="146" y="189" width="3" height="53" fill="#000"/>
<rect x="147" y="190" width="1" height="51" fill="#fff"/>
<rect x="151" y="159" width="1" height="42" fill="#000"/>
<rect x="150" y="171" width="3" height="19" fill="#000"/>
<rect x="151" y="172" width="1" height="17" fill="#fff"/>
<rect x="155" y="168" width="1" height="18" fill="#000"/>
<rect x="154" y="171" width="3" height="7" fill="#000"/>
<rect x="159" y="170" width="1" height="34" fill="#000"/>
<rect x="158" y="171" width="3" height="28" fill="#000"/>
<rect x="163" y="181" width="1" height="28" fill="#000"/>
<rect x="162" y="194" width="3" height="4" fill="#000"/>
<rect x="163" y="195" width="1" height="2" fill="#fff"/>
<rect x="167" y="185" width="1" height="22" fill="#000"/>
<rect x="166" y="195" width="3" height="1" fill="#000"/>
<rect x="171" y="184" width="1" height="23" fill="#000"/>
<rect x="170" y="195" width="3" height="6" fill="#000"/>
<rect x="175" y="190" width="1" height="11" fill="#000"/>
<rect x="174" y="194" width="3" height="7" fill="#000"/>
<rect x="175" y="195" width="1" height="5" fill="#fff"/>
<rect x="179" y="187" width="1" height="12" fill="#000"/>
<rect x="178" y="188" width="3" height="7" fill="#000"/>
<rect x="179" y="189" width="1" height="5" fill="#fff"/>
<rect x="183" y="178" width="1" height="19" fill="#000"/>
<rect x="182" y="188" width="3" height="6" fill="#000"/>
<rect x="187" y="173" width="1" height="49" fill="#000"/>
<rect x="186" y="193" width="3" height="18" fill="#000"/>
<rect x="191" y="145" width="1" height="66" fill="#000"/>
<rect x="190" y="169" width="3" height="42" fill="#000"/>
<rect x="191" y="170" width="1" height="40" fill="#fff"/>
<rect x="195" y="140" width="1" height="32" fill="#000"/>
<rect x="194" y="149" width="3" height="22" fill="#000"/>
<rect x="195" y="150" width="1" height="20" fill="#fff"/>
<rect x="199" y="146" width="1" height="14" fill="#000"/>
<rect x="198" y="149" width="3" height="7" fill="#000"/>
<rect x="203" y="119" width="1" height="39" fill="#000"/>
<rect x="202" y="138" width="3" height="18" fill="#000"/>
<rect x="203" y="139" width="1" height="16" fill="#fff"/>
<rect x="207" y="107" width="1" height="33" fill="#000"/>
<rect x="206" y="109" width="3" height="30" fill="#000"/>
<rect x="207" y="110" width="1" height="28" fill="#fff"/>
<rect x="211" y="98" width="1" height="23" fill="#000"/>
<rect x="210" y="99" width="3" height="11" fill="#000"/>
<rect x="211" y="100" width="1" height="9" fill="#fff"/>
<rect x="215" y="82" width="1" height="39" fill="#000"/>
<rect x="214" y="91" width="3" height="8" fill="#000"/>
<rect x="215" y="92" width="1" height="6" fill="#fff"/>
<rect x="219" y="68" width="1" height="30" fill="#000"/>
<rect x="218" y="73" width="3" height="19" fill="#000"/>
<rect x="219" y="74" width="1" height="17" fill="#fff"/>
<rect x="223" y="52" width="1" height="25" fill="#000"/>
<rect x="222" y="70" width="3" height="4" fill="#000"/>
<rect x="223" y="71" width="1" height="2" fill="#fff"/>
<rect x="227" y="56" width="1" height="20" fill="#000"/>
<rect x="226" y="65" width="3" height="7" fill="#000"/>
<rect x="227" y="66" width="1" height="5" fill="#fff"/>
<rect x="231" y="20" width="1" height="48" fill="#000"/>
<rect x="230" y="32" width="3" height="34" fill="#000"/>
<rect x="231" y="33" width="1" height="32" fill="#fff"/>
<rect x="235" y="23" width="1" height="18" fill="#000"/>
<rect x="234" y="32" width="3" height="1" fill="#000"/>
<rect x="239" y="31" width="1" height="50" fill="#000"/>
<rect x="238" y="32" width="3" height="29" fill="#000"/>
<rect x="243" y="57" width="1" height="51" fill="#000"/>
<rect x="242" y="60" width="3" height="35" fill="#000"/>
<rect x="247" y="89" width="1" height="21" fill="#000"/>
<rect x="246" y="94" width="3" height="5" fill="#000"/>
<rect x="251" y="74" width="1" height="29" fill="#000"/>
<rect x="250" y="77" width="3" height="21" fill="#000"/>
<rect x="251" y="78" width="1" height="19" fill="#fff"/>
<rect x="255" y="70" width="1" height="25" fill="#000"/>
<rect x="254" y="77" width="3" height="3" fill="#000"/>
<rect x="259" y="73" width="1" height="31" fill="#000"/>
<rect x="258" y="77" width="3" height="3" fill="#000"/>
<rect x="263" y="51" width="1" height="37" fill="#000"/>
<rect x="262" y="63" width="3" height="15" fill="#000"/>
<rect x="263" y="64" width="1" height="13" fill="#fff"/>
<rect x="267" y="42" width="1" height="61" fill="#000"/>
<rect x="266" y="63" width="3" height="35" fill="#000"/>
<rect x="271" y="85" width="1" height="27" fill="#000"/>
<rect x="270" y="96" width="3" height="3" fill="#000"/>
<rect x="275" y="84" width="1" height="16" fill="#000"/>
<rect x="274" y="88" width="3" height="12" fill="#000"/>
<rect x="275" y="89" width="1" height="10" fill="#fff"/>
<rect x="279" y="75" width="1" height="19" fill="#000"/>
<rect x="278" y="83" width="3" height="10" fill="#000"/>
<rect x="279" y="84" width="1" height="8" fill="#fff"/>
<rect x="283" y="82" width="1" height="15" fill="#000"/>
<rect x="282" y="83" width="3" height="10" fill="#000"/>
<rect x="287" y="88" width="1" height="39" fill="#000"/>
<rect x="286" y="90" width="3" height="36" fill="#000"/>
<rect x="291" y="77" width="1" height="49" fill="#000"/>
<rect x="290" y="81" width="3" height="44" fill="#000"/>
<rect x="291" y="82" width="1" height="42" fill="#fff"/>
<rect x="295" y="79" width="1" height="33" fill="#000"/>
<rect x="294" y="81" width="3" height="12" fill="#000"/>
<rect x="299" y="86" width="1" height="16" fill="#000"/>
<rect x="298" y="90" width="3" height="3" fill="#000"/>
<rect x="303" y="85" width="1" height="11" fill="#000"/>
<rect x="302" y="86" width="3" height="7" fill="#000"/>
<rect x="303" y="87" width="1" height="5" fill="#fff"/>
<rect x="307" y="82" width="1" height="12" fill="#000"/>
<rect x="306" y="86" width="3" height="2" fill="#000"/>
<rect x="311" y="51" width="1" height="43" fill="#000"/>
<rect x="310" y="54" width="3" height="34" fill="#000"/>
<rect x="311" y="55" width="1" height="32" fill="#fff"/>
<rect x="315" y="52" width="1" height="26" fill="#000"/>
<rect x="314" y="54" width="3" height="23" fill="#000"/>
<rect x="319" y="66" width="1" height="33" fill="#000"/>
<rect x="318" y="69" width="3" height="8" fill="#000"/>
<rect x="319" y="70" width="1" height="6" fill="#fff"/>
<rect x="323" y="57" width="1" height="18" fill="#000"/>
<rect x="322" y="61" width="3" height="10" fill="#000"/>
<rect x="323" y="62" width="1" height="8" fill="#fff"/>
<rect x="327" y="60" width="1" height="19" fill="#000"/>
<rect x="326" y="61" width="3" height="14" fill="#000"/>
<rect x="331" y="60" width="1" height="18" fill="#000"/>
<rect x="330" y="62" width="3" height="13" fill="#000"/>
<rect x="331" y="63" width="1" height="11" fill="#fff"/>
<rect x="335" y="39" width="1" height="38" fill="#000"/>
<rect x="334" y="50" width="3" height="14" fill="#000"/>
<rect x="335" y="51" width="1" height="12" fill="#fff"/>
<rect x="339" y="27" width="1" height="27" fill="#000"/>
<rect x="338" y="40" width="3" height="11" fill="#000"/>
<rect x="339" y="41" width="1" height="9" fill="#fff"/>
<rect x="343" y="39" width="1" height="51" fill="#000"/>
<rect x="342" y="39" width="3" height="47" fill="#000"/>
<rect x="347" y="80" width="1" height="22" fill="#000"/>
<rect x="346" y="85" width="3" height="9" fill="#000"/>
<rect x="351" y="84" width="1" height="32" fill="#000"/>
<rect x="350" y="91" width="3" height="11" fill="#000"/>
<rect x="355" y="90" width="1" height="24" fill="#000"/>
<rect x="354" y="92" width="3" height="10" fill="#000"/>
<rect x="355" y="93" width="1" height="8" fill="#fff"/>
<rect x="359" y="92" width="1" height="58" fill="#000"/>
<rect x="358" y="92" width="3" height="52" fill="#000"/>
<rect x="363" y="110" width="1" height="47" fill="#000"/>
<rect x="362" y="124" width="3" height="20" fill="#000"/>
<rect x="363" y="125" width="1" height="18" fill="#fff"/>
<rect x="367" y="119" width="1" height="71" fill="#000"/>
<rect x="366" y="123" width="3" height="60" fill="#000"/>
<rect x="371" y="161" width="1" height="23" fill="#000"/>
<rect x="370" y="165" width="3" height="18" fill="#000"/>
<rect x="371" y="166" width="1" height="16" fill="#fff"/>
<rect x="375" y="144" width="1" height="29" fill="#000"/>
<rect x="374" y="145" width="3" height="21" fill="#000"/>
<rect x="375" y="146" width="1" height="19" fill="#fff"/>
<rect x="379" y="131" width="1" height="21" fill="#000"/>
<rect x="378" y="142" width="3" height="4" fill="#000"/>
<rect x="379" y="143" width="1" height="2" fill="#fff"/>
<rect x="383" y="136" width="1" height="29" fill="#000"/>
<rect x="382" y="142" width="3" height="19" fill="#000"/>
<rect x="387" y="153" width="1" height="34" fill="#000"/>
<rect x="386" y="160" width="3" height="19" fill="#000"/>
<rect x="391" y="167" width="1" height="53" fill="#000"/>
<rect x="390" y="176" width="3" height="3" fill="#000"/>
<rect x="391" y="177" width="1" height="1" fill="#fff"/>
<rect x="395" y="165" width="1" height="25" fill="#000"/>
<rect x="394" y="176" width="3" height="13" fill="#000"/>
<rect x="399" y="147" width="1" height="38" fill="#000"/>
<rect x="398" y="155" width="3" height="28" fill="#000"/>
<rect x="399" y="156" width="1" height="26" fill="#fff"/>
<rect x="403" y="148" width="1" height="13" fill="#000"/>
<rect x="402" y="154" width="3" height="2" fill="#000"/>
<rect x="407" y="134" width="1" height="34" fill="#000"/>
<rect x="406" y="142" width="3" height="13" fill="#000"/>
<rect x="407" y="143" width="1" height="11" fill="#fff"/>
<rect x="411" y="126" width="1" height="38" fill="#000"/>
<rect x="410" y="141" width="3" height="11" fill="#000"/>
<rect x="415" y="133" width="1" height="30" fill="#000"/>
<rect x="414" y="144" width="3" height="8" fill="#000"/>
<rect x="415" y="145" width="1" height="6" fill="#fff"/>
<rect x="419" y="137" width="1" height="16" fill="#000"/>
<rect x="418" y="143" width="3" height="2" fill="#000"/>
<rect x="423" y="123" width="1" height="24" fill="#000"/>
<rect x="422" y="137" width="3" height="8" fill="#000"/>
<rect x="423" y="138" width="1" height="6" fill="#fff"/>
<rect x="427" y="135" width="1" height="12" fill="#000"/>
<rect x="426" y="136" width="3" height="5" fill="#000"/>
<rect x="431" y="132" width="1" height="20" fill="#000"/>
<rect x="430" y="140" width="3" height="6" fill="#000"/>
<rect x="435" y="106" width="1" height="55" fill="#000"/>
<rect x="434" y="114" width="3" height="32" fill="#000"/>
<rect x="435" y="115" width="1" height="30" fill="#fff"/>
<rect x="439" y="92" width="1" height="31" fill="#000"/>
<rect x="438" y="114" width="3" height="1" fill="#000"/>
<rect x="443" y="108" width="1" height="15" fill="#000"/>
<rect x="442" y="111" width="3" height="4" fill="#000"/>
<rect x="443" y="112" width="1" height="2" fill="#fff"/>
<rect x="447" y="107" width="1" height="27" fill="#000"/>
<rect x="446" y="111" width="3" height="16" fill="#000"/>
<rect x="451" y="117" width="1" height="26" fill="#000"/>
<rect x="450" y="125" width="3" height="15" fill="#000"/>
<rect x="455" y="130" width="1" height="34" fill="#000"/>
<rect x="454" y="137" width="3" height="3" fill="#000"/>
<rect x="459" y="119" width="1" height="22" fill="#000"/>
<rect x="458" y="120" width="3" height="20" fill="#000"/>
<rect x="459" y="121" width="1" height="18" fill="#fff"/>
<rect x="463" y="110" width="1" height="48" fill="#000"/>
<rect x="462" y="120" width="3" height="24" fill="#000"/>
<rect x="467" y="133" width="1" height="21" fill="#000"/>
<rect x="466" y="136" width="3" height="8" fill="#000"/>
<rect x="467" y="137" width="1" height="6" fill="#fff"/>
<rect x="471" y="129" width="1" height="27" fill="#000"/>
<rect x="470" y="136" width="3" height="16" fill="#000"/>
<rect x="475" y="148" width="1" height="22" fill="#000"/>
<rect x="474" y="150" width="3" height="9" fill="#000"/>
<rect x="479" y="152" width="1" height="45" fill="#000"/>
<rect x="478" y="156" width="3" height="23" fill="#000"/>
<rect x="483" y="177" width="1" height="33" fill="#000"/>
<rect x="482" y="178" width="3" height="19" fill="#000"/>
<rect x="487" y="179" width="1" height="47" fill="#000"/>
<rect x="486" y="180" width="3" height="17" fill="#000"/>
<rect x="487" y="181" width="1" height="15" fill="#fff"/>
<rect x="491" y="175" width="1" height="16" fill="#000"/>
<rect x="490" y="176" width="3" height="5" fill="#000"/>
<rect x="491" y="177" width="1" height="3" fill="#fff"/>
<rect x="495" y="171" width="1" height="63" fill="#000"/>
<rect x="494" y="175" width="3" height="22" fill="#000"/>
<rect x="499" y="187" width="1" height="36" fill="#000"/>
<rect x="498" y="196" width="3" height="19" fill="#000"/>
<rect x="503" y="196" width="1" height="35" fill="#000"/>
<rect x="502" y="204" width="3" height="11" fill="#000"/>
<rect x="503" y="205" width="1" height="9" fill="#fff"/>
<rect x="507" y="195" width="1" height="28" fill="#000"/>
<rect x="506" y="195" width="3" height="10" fill="#000"/>
<rect x="507" y="196" width="1" height="8" fill="#fff"/>
<rect x="511" y="158" width="1" height="52" fill="#000"/>
<rect x="510" y="160" width="3" height="37" fill="#000"/>
<rect x="511" y="161" width="1" height="35" fill="#fff"/>
<rect x="515" y="137" width="1" height="27" fill="#000"/>
<rect x="514" y="139" width="3" height="23" fill="#000"/>
<rect x="515" y="140" width="1" height="21" fill="#fff"/>
<rect x="519" y="104" width="1" height="45" fill="#000"/>
<rect x="518" y="108" width="3" height="18" fill="#000"/>
<rect x="519" y="109" width="1" height="16" fill="#fff"/>
<rect x="523" y="99" width="1" height="30" fill="#000"/>
<rect x="522" y="107" width="3" height="19" fill="#000"/>
<rect x="527" y="115" width="1" height="38" fill="#000"/>
<rect x="526" y="125" width="3" height="27" fill="#000"/>
<rect x="531" y="141" width="1" height="47" fill="#000"/>
<rect x="530" y="151" width="3" height="35" fill="#000"/>
<rect x="535" y="178" width="1" height="51" fill="#000"/>
<rect x="534" y="184" width="3" height="18" fill="#000"/>
<rect x="539" y="199" width="1" height="18" fill="#000"/>
<rect x="538" y="201" width="3" height="10" fill="#000"/>
<rect x="543" y="196" width="1" height="63" fill="#000"/>
<rect x="542" y="210" width="3" height="29" fill="#000"/>
<rect x="547" y="218" width="1" height="21" fill="#000"/>
<rect x="546" y="222" width="3" height="17" fill="#000"/>
<rect x="547" y="223" width="1" height="15" fill="#fff"/>
<rect x="551" y="204" width="1" height="21" fill="#000"/>
<rect x="550" y="214" width="3" height="11" fill="#000"/>
<rect x="551" y="215" width="1" height="9" fill="#fff"/>
<rect x="555" y="199" width="1" height="22" fill="#000"/>
<rect x="554" y="199" width="3" height="16" fill="#000"/>
<rect x="555" y="200" width="1" height="14" fill="#fff"/>
<rect x="559" y="180" width="1" height="28" fill="#000"/>
<rect x="558" y="199" width="3" height="6" fill="#000"/>
<rect x="563" y="127" width="1" height="86" fill="#000"/>
<rect x="562" y="144" width="3" height="61" fill="#000"/>
<rect x="563" y="145" width="1" height="59" fill="#fff"/>
<rect x="567" y="133" width="1" height="16" fill="#000"/>
<rect x="566" y="144" width="3" height="3" fill="#000"/>
<rect x="571" y="136" width="1" height="27" fill="#000"/>
<rect x="570" y="145" width="3" height="15" fill="#000"/>
<rect x="575" y="147" width="1" height="19" fill="#000"/>
<rect x="574" y="158" width="3" height="3" fill="#000"/>
<rect x="579" y="158" width="1" height="52" fill="#000"/>
<rect x="578" y="159" width="3" height="30" fill="#000"/>
<rect x="583" y="155" width="1" height="34" fill="#000"/>
<rect x="582" y="160" width="3" height="29" fill="#000"/>
<rect x="583" y="161" width="1" height="27" fill="#fff"/>
<rect x="587" y="159" width="1" height="22" fill="#000"/>
<rect x="586" y="160" width="3" height="17" fill="#000"/>
<rect x="591" y="175" width="1" height="17" fill="#000"/>
<rect x="590" y="175" width="3" height="12" fill="#000"/>
<rect x="595" y="184" width="1" height="24" fill="#000"/>
<rect x="594" y="185" width="3" height="7" fill="#000"/>
<rect x="599" y="191" width="1" height="11" fill="#000"/>
<rect x="598" y="191" width="3" height="5" fill="#000"/>
</g>
<g shape-rendering="crispEdges" fill="#c0c0c0">
<rect x="2" y="432" width="3" height="43"/>
<rect x="6" y="431" width="3" height="44"/>
<rect x="10" y="432" width="3" height="43"/>
<rect x="14" y="431" width="3" height="44"/>
<rect x="18" y="427" width="3" height="48"/>
<rect x="22" y="424" width="3" height="51"/>
<rect x="26" y="420" width="3" height="55"/>
<rect x="30" y="418" width="3" height="57"/>
<rect x="34" y="415" width="3" height="60"/>
<rect x="38" y="413" width="3" height="62"/>
<rect x="42" y="421" width="3" height="54"/>
<rect x="46" y="426" width="3" height="49"/>
<rect x="50" y="429" width="3" height="46"/>
<rect x="54" y="431" width="3" height="44"/>
<rect x="58" y="432" width="3" height="43"/>
<rect x="62" y="436" width="3" height="39"/>
<rect x="66" y="437" width="3" height="38"/>
<rect x="70" y="447" width="3" height="28"/>
<rect x="74" y="454" width="3" height="21"/>
<rect x="78" y="465" width="3" height="10"/>
<rect x="82" y="470" width="3" height="5"/>
<rect x="86" y="474" width="3" height="3"/>
<rect x="90" y="474" width="3" height="7"/>
<rect x="94" y="474" width="3" height="12"/>
<rect x="98" y="474" width="3" height="12"/>
<rect x="102" y="474" width="3" height="10"/>
<rect x="106" y="474" width="3" height="8"/>
<rect x="110" y="474" width="3" height="5"/>
<rect x="114" y="473" width="3" height="2"/>
<rect x="118" y="468" width="3" height="7"/>
<rect x="122" y="463" width="3" height="12"/>
<rect x="126" y="460" width="3" height="15"/>
<rect x="130" y="455" width="3" height="20"/>
<rect x="134" y="451" width="3" height="24"/>
<rect x="138" y="446" width="3" height="29"/>
<rect x="142" y="443" width="3" height="32"/>
<rect x="146" y="433" width="3" height="42"/>
<rect x="150" y="422" width="3" height="53"/>
<rect x="154" y="416" width="3" height="59"/>
<rect x="158" y="414" width="3" height="61"/>
<rect x="162" y="413" width="3" height="62"/>
<rect x="166" y="413" width="3" height="62"/>
<rect x="170" y="415" width="3" height="60"/>
<rect x="174" y="416" width="3" height="59"/>
<rect x="178" y="417" width="3" height="58"/>
<rect x="182" y="418" width="3" height="57"/>
<rect x="186" y="423" width="3" height="52"/>
<rect x="190" y="421" width="3" height="54"/>
<rect x="194" y="417" width="3" height="58"/>
<rect x="198" y="414" width="3" height="61"/>
<rect x="202" y="410" width="3" height="65"/>
<rect x="206" y="403" width="3" height="72"/>
<rect x="210" y="396" width="3" height="79"/>
<rect x="214" y="391" width="3" height="84"/>
<rect x="218" y="384" width="3" height="91"/>
<rect x="222" y="380" width="3" height="95"/>
<rect x="226" y="377" width="3" height="98"/>
<rect x="230" y="370" width="3" height="105"/>
<rect x="234" y="365" width="3" height="110"/>
<rect x="238" y="368" width="3" height="107"/>
<rect x="242" y="377" width="3" height="98"/>
<rect x="246" y="386" width="3" height="89"/>
<rect x="250" y="390" width="3" height="85"/>
<rect x="254" y="395" width="3" height="80"/>
<rect x="258" y="399" width="3" height="76"/>
<rect x="262" y="401" width="3" height="74"/>
<rect x="266" y="409" width="3" height="66"/>
<rect x="270" y="416" width="3" height="59"/>
<rect x="274" y="421" width="3" height="54"/>
<rect x="278" y="424" width="3" height="51"/>
<rect x="282" y="429" width="3" height="46"/>
<rect x="286" y="438" width="3" height="37"/>
<rect x="290" y="439" width="3" height="36"/>
<rect x="294" y="442" width="3" height="33"/>
<rect x="298" y="444" width="3" height="31"/>
<rect x="302" y="445" width="3" height="30"/>
<rect x="306" y="447" width="3" height="28"/>
<rect x="310" y="443" width="3" height="32"/>
<rect x="314" y="444" width="3" height="31"/>
<rect x="318" y="444" width="3" height="31"/>
<rect x="322" y="444" width="3" height="31"/>
<rect x="326" y="444" width="3" height="31"/>
<rect x="330" y="444" width="3" height="31"/>
<rect x="334" y="442" width="3" height="33"/>
<rect x="338" y="439" width="3" height="36"/>
<rect x="342" y="442" width="3" height="33"/>
<rect x="346" y="451" width="3" height="24"/>
<rect x="350" y="458" width="3" height="17"/>
<rect x="354" y="461" width="3" height="14"/>
<rect x="358" y="473" width="3" height="2"/>
<rect x="362" y="474" width="3" height="7"/>
<rect x="366" y="474" width="3" height="21"/>
<rect x="370" y="474" width="3" height="30"/>
<rect x="374" y="474" width="3" height="32"/>
<rect x="378" y="474" width="3" height="34"/>
<rect x="382" y="474" width="3" height="36"/>
<rect x="386" y="474" width="3" height="43"/>
<rect x="390" y="474" width="3" height="47"/>
<rect x="394" y="474" width="3" height="51"/>
<rect x="398" y="474" width="3" height="48"/>
<rect x="402" y="474" width="3" height="45"/>
<rect x="406" y="474" width="3" height="41"/>
<rect x="410" y="474" width="3" height="37"/>
<rect x="414" y="474" width="3" height="33"/>
<rect x="418" y="474" width="3" height="31"/>
<rect x="422" y="474" width="3" height="26"/>
<rect x="426" y="474" width="3" height="24"/>
<rect x="430" y="474" width="3" height="21"/>
<rect x="434" y="474" width="3" height="15"/>
<rect x="438" y="474" width="3" height="10"/>
<rect x="442" y="474" width="3" height="5"/>
<rect x="446" y="474" width="3" height="3"/>
<rect x="450" y="474" width="3" height="4"/>
<rect x="454" y="474" width="3" height="5"/>
<rect x="458" y="474" width="3" height="4"/>
<rect x="462" y="474" width="3" height="4"/>
<rect x="466" y="474" width="3" height="5"/>
<rect x="470" y="474" width="3" height="6"/>
<rect x="474" y="474" width="3" height="11"/>
<rect x="478" y="474" width="3" height="17"/>
<rect x="482" y="474" width="3" height="24"/>
<rect x="486" y="474" width="3" height="26"/>
<rect x="490" y="474" width="3" height="28"/>
<rect x="494" y="474" width="3" height="33"/>
<rect x="498" y="474" width="3" height="38"/>
<rect x="502" y="474" width="3" height="41"/>
<rect x="506" y="474" width="3" height="41"/>
<rect x="510" y="474" width="3" height="33"/>
<rect x="514" y="474" width="3" height="26"/>
<rect x="518" y="474" width="3" height="12"/>
<rect x="522" y="474" width="3" height="5"/>
<rect x="526" y="474" width="3" height="4"/>
<rect x="530" y="474" width="3" height="9"/>
<rect x="534" y="474" width="3" height="15"/>
<rect x="538" y="474" width="3" height="23"/>
<rect x="542" y="474" width="3" height="32"/>
<rect x="546" y="474" width="3" height="37"/>
<rect x="550" y="474" width="3" height="38"/>
<rect x="554" y="474" width="3" height="37"/>
<rect x="558" y="474" width="3" height="35"/>
<rect x="562" y="474" width="3" height="24"/>
<rect x="566" y="474" width="3" height="16"/>
<rect x="570" y="474" width="3" height="10"/>
<rect x="574" y="474" width="3" height="7"/>
<rect x="578" y="474" width="3" height="8"/>
<rect x="582" y="474" width="3" height="5"/>
<rect x="586" y="474" width="3" height="5"/>
<rect x="590" y="474" width="3" height="7"/>
<rect x="594" y="474" width="3" height="8"/>
<rect x="598" y="474" width="3" height="12"/>
</g>
<g shape-rendering="crispEdges">
<path fill="#ff0000" d="M246 376h7v1h-7zM244 377h11v1h-11zM242 378h5v1h-5zM252 378h5v1h-5zM240 379h5v1h-5zM254 379h5v1h-5zM239 380h4v1h-4zM256 380h5v1h-5zM238 381h3v1h-3zM258 381h5v1h-5zM237 382h3v1h-3zM260 382h5v1h-5zM236 383h3v1h-3zM262 383h4v1h-4zM235 384h3v1h-3zM264 384h3v1h-3zM234 385h3v1h-3zM265 385h2v1h-2zM233 386h3v1h-3zM265 386h3v1h-3zM232 387h3v1h-3zM266 387h3v1h-3zM231 388h3v1h-3zM267 388h3v1h-3zM231 389h2v1h-2zM268 389h2v1h-2zM230 390h3v1h-3zM268 390h3v1h-3zM229 391h3v1h-3zM269 391h3v1h-3zM228 392h3v1h-3zM270 392h3v1h-3zM228 393h2v1h-2zM271 393h3v1h-3zM227 394h3v1h-3zM272 394h2v1h-2zM226 395h3v1h-3zM272 395h3v1h-3zM226 396h2v1h-2zM273 396h3v1h-3zM225 397h3v1h-3zM274 397h3v1h-3zM224 398h3v1h-3zM275 398h3v1h-3zM223 399h3v1h-3zM276 399h2v1h-2zM222 400h3v1h-3zM276 400h3v1h-3zM221 401h3v1h-3zM277 401h3v1h-3zM221 402h2v1h-2zM278 402h3v1h-3zM220 403h3v1h-3zM279 403h2v1h-2zM219 404h3v1h-3zM279 404h3v1h-3zM218 405h3v1h-3zM280 405h3v1h-3zM217 406h3v1h-3zM281 406h2v1h-2zM216 407h3v1h-3zM281 407h3v1h-3zM214 408h4v1h-4zM282 408h3v1h-3zM213 409h4v1h-4zM283 409h3v1h-3zM212 410h3v1h-3zM284 410h2v1h-2zM210 411h4v1h-4zM284 411h3v1h-3zM208 412h5v1h-5zM285 412h3v1h-3zM206 413h5v1h-5zM286 413h3v1h-3zM204 414h5v1h-5zM287 414h2v1h-2zM179 415h13v1h-13zM199 415h8v1h-8zM287 415h3v1h-3zM177 416h28v1h-28zM288 416h3v1h-3zM175 417h5v1h-5zM191 417h9v1h-9zM289 417h3v1h-3zM174 418h4v1h-4zM290 418h3v1h-3zM173 419h3v1h-3zM291 419h2v1h-2zM49 420h7v1h-7zM173 420h2v1h-2zM291 420h3v1h-3zM44 421h16v1h-16zM172 421h3v1h-3zM292 421h3v1h-3zM40 422h10v1h-10zM55 422h8v1h-8zM171 422h3v1h-3zM293 422h3v1h-3zM37 423h8v1h-8zM59 423h6v1h-6zM170 423h3v1h-3zM294 423h3v1h-3zM35 424h6v1h-6zM62 424h5v1h-5zM170 424h2v1h-2zM295 424h2v1h-2zM34 425h4v1h-4zM64 425h4v1h-4zM169 425h3v1h-3zM295 425h3v1h-3zM32 426h4v1h-4zM66 426h3v1h-3zM168 426h3v1h-3zM296 426h3v1h-3zM30 427h5v1h-5zM67 427h3v1h-3zM167 427h3v1h-3zM297 427h3v1h-3zM29 428h4v1h-4zM68 428h3v1h-3zM166 428h3v1h-3zM298 428h2v1h-2zM27 429h4v1h-4zM69 429h3v1h-3zM165 429h3v1h-3zM298 429h3v1h-3zM25 430h5v1h-5zM70 430h3v1h-3zM164 430h3v1h-3zM299 430h3v1h-3zM23 431h5v1h-5zM71 431h3v1h-3zM164 431h2v1h-2zM300 431h4v1h-4zM21 432h5v1h-5zM72 432h3v1h-3zM163 432h3v1h-3zM301 432h4v1h-4zM19 433h5v1h-5zM73 433h3v1h-3zM162 433h3v1h-3zM303 433h3v1h-3zM17 434h5v1h-5zM74 434h3v1h-3zM161 434h3v1h-3zM304 434h4v1h-4zM15 435h5v1h-5zM75 435h3v1h-3zM161 435h2v1h-2zM305 435h4v1h-4zM14 436h4v1h-4zM76 436h2v1h-2zM160 436h3v1h-3zM307 436h3v1h-3zM12 437h4v1h-4zM76 437h3v1h-3zM159 437h3v1h-3zM308 437h4v1h-4zM10 438h5v1h-5zM77 438h3v1h-3zM158 438h3v1h-3zM309 438h5v1h-5zM9 439h4v1h-4zM78 439h3v1h-3zM158 439h2v1h-2zM311 439h5v1h-5zM8 440h3v1h-3zM79 440h3v1h-3zM157 440h3v1h-3zM313 440h5v1h-5zM7 441h3v1h-3zM80 441h3v1h-3zM156 441h3v1h-3zM315 441h6v1h-6zM5 442h4v1h-4zM81 442h3v1h-3zM155 442h3v1h-3zM317 442h8v1h-8zM339 442h7v1h-7zM4 443h4v1h-4zM82 443h2v1h-2zM155 443h2v1h-2zM320 443h29v1h-29zM3 444h3v1h-3zM82 444h3v1h-3zM154 444h3v1h-3zM324 444h16v1h-16zM345 444h6v1h-6zM3 445h2v1h-2zM83 445h3v1h-3zM153 445h3v1h-3zM348 445h5v1h-5zM84 446h3v1h-3zM153 446h2v1h-2zM350 446h5v1h-5zM85 447h2v1h-2zM152 447h3v1h-3zM352 447h4v1h-4zM85 448h3v1h-3zM151 448h3v1h-3zM354 448h4v1h-4zM86 449h3v1h-3zM151 449h2v1h-2zM355 449h4v1h-4zM87 450h3v1h-3zM150 450h3v1h-3zM357 450h3v1h-3zM88 451h2v1h-2zM149 451h3v1h-3zM358 451h4v1h-4zM88 452h3v1h-3zM149 452h2v1h-2zM359 452h4v1h-4zM89 453h3v1h-3zM148 453h3v1h-3zM361 453h3v1h-3zM90 454h3v1h-3zM147 454h3v1h-3zM362 454h3v1h-3zM91 455h2v1h-2zM146 455h3v1h-3zM363 455h2v1h-2zM91 456h3v1h-3zM146 456h2v1h-2zM363 456h3v1h-3zM92 457h3v1h-3zM145 457h3v1h-3zM364 457h3v1h-3zM93 458h3v1h-3zM144 458h3v1h-3zM365 458h2v1h-2zM94 459h2v1h-2zM143 459h3v1h-3zM365 459h3v1h-3zM94 460h3v1h-3zM143 460h2v1h-2zM366 460h3v1h-3zM95 461h3v1h-3zM142 461h3v1h-3zM367 461h3v1h-3zM96 462h2v1h-2zM141 462h3v1h-3zM368 462h2v1h-2zM96 463h3v1h-3zM140 463h3v1h-3zM368 463h3v1h-3zM97 464h3v1h-3zM139 464h3v1h-3zM369 464h3v1h-3zM98 465h3v1h-3zM138 465h3v1h-3zM370 465h2v1h-2zM99 466h2v1h-2zM136 466h4v1h-4zM370 466h3v1h-3zM99 467h3v1h-3zM135 467h4v1h-4zM371 467h2v1h-2zM100 468h3v1h-3zM134 468h3v1h-3zM371 468h3v1h-3zM101 469h3v1h-3zM133 469h3v1h-3zM372 469h2v1h-2zM102 470h3v1h-3zM132 470h3v1h-3zM372 470h3v1h-3zM103 471h3v1h-3zM130 471h4v1h-4zM373 471h3v1h-3zM104 472h3v1h-3zM129 472h4v1h-4zM374 472h2v1h-2zM105 473h3v1h-3zM128 473h3v1h-3zM374 473h3v1h-3zM106 474h3v1h-3zM126 474h4v1h-4zM375 474h2v1h-2zM107 475h3v1h-3zM124 475h5v1h-5zM375 475h3v1h-3zM108 476h3v1h-3zM120 476h7v1h-7zM376 476h2v1h-2zM109 477h16v1h-16zM376 477h3v1h-3zM467 477h7v1h-7zM110 478h11v1h-11zM377 478h3v1h-3zM465 478h14v1h-14zM378 479h2v1h-2zM463 479h5v1h-5zM473 479h8v1h-8zM378 480h3v1h-3zM461 480h5v1h-5zM478 480h5v1h-5zM379 481h2v1h-2zM459 481h5v1h-5zM480 481h6v1h-6zM598 481h2v1h-2zM379 482h3v1h-3zM457 482h5v1h-5zM482 482h6v1h-6zM596 482h4v1h-4zM380 483h2v1h-2zM455 483h5v1h-5zM485 483h5v1h-5zM594 483h5v1h-5zM380 484h3v1h-3zM454 484h4v1h-4zM487 484h5v1h-5zM593 484h4v1h-4zM381 485h3v1h-3zM453 485h3v1h-3zM489 485h4v1h-4zM591 485h4v1h-4zM382 486h2v1h-2zM451 486h4v1h-4zM491 486h3v1h-3zM590 486h4v1h-4zM382 487h3v1h-3zM450 487h4v1h-4zM492 487h3v1h-3zM588 487h4v1h-4zM383 488h2v1h-2zM449 488h3v1h-3zM493 488h4v1h-4zM586 488h5v1h-5zM383 489h3v1h-3zM448 489h3v1h-3zM494 489h4v1h-4zM585 489h4v1h-4zM384 490h2v1h-2zM447 490h3v1h-3zM496 490h3v1h-3zM539 490h11v1h-11zM584 490h3v1h-3zM384 491h3v1h-3zM446 491h3v1h-3zM497 491h3v1h-3zM537 491h16v1h-16zM583 491h3v1h-3zM385 492h3v1h-3zM445 492h3v1h-3zM498 492h3v1h-3zM536 492h4v1h-4zM549 492h5v1h-5zM582 492h3v1h-3zM386 493h2v1h-2zM444 493h3v1h-3zM499 493h3v1h-3zM535 493h3v1h-3zM552 493h3v1h-3zM580 493h4v1h-4zM386 494h3v1h-3zM443 494h3v1h-3zM500 494h2v1h-2zM533 494h4v1h-4zM553 494h3v1h-3zM579 494h4v1h-4zM387 495h2v1h-2zM442 495h3v1h-3zM500 495h3v1h-3zM532 495h4v1h-4zM554 495h3v1h-3zM578 495h3v1h-3zM387 496h3v1h-3zM441 496h3v1h-3zM501 496h3v1h-3zM530 496h4v1h-4zM555 496h3v1h-3zM577 496h3v1h-3zM388 497h2v1h-2zM440 497h3v1h-3zM502 497h3v1h-3zM528 497h5v1h-5zM556 497h4v1h-4zM575 497h4v1h-4zM388 498h3v1h-3zM439 498h3v1h-3zM503 498h2v1h-2zM526 498h5v1h-5zM557 498h5v1h-5zM573 498h5v1h-5zM389 499h3v1h-3zM438 499h3v1h-3zM503 499h3v1h-3zM524 499h5v1h-5zM559 499h5v1h-5zM571 499h5v1h-5zM390 500h2v1h-2zM437 500h3v1h-3zM504 500h3v1h-3zM522 500h5v1h-5zM561 500h13v1h-13zM390 501h3v1h-3zM436 501h3v1h-3zM505 501h3v1h-3zM520 501h5v1h-5zM563 501h9v1h-9zM391 502h2v1h-2zM435 502h3v1h-3zM506 502h4v1h-4zM518 502h5v1h-5zM391 503h3v1h-3zM434 503h3v1h-3zM507 503h4v1h-4zM516 503h5v1h-5zM392 504h3v1h-3zM433 504h3v1h-3zM509 504h10v1h-10zM393 505h3v1h-3zM431 505h4v1h-4zM510 505h7v1h-7zM394 506h3v1h-3zM430 506h4v1h-4zM395 507h3v1h-3zM428 507h4v1h-4zM396 508h3v1h-3zM426 508h5v1h-5zM397 509h3v1h-3zM425 509h4v1h-4zM398 510h3v1h-3zM423 510h4v1h-4zM399 511h4v1h-4zM421 511h5v1h-5zM400 512h5v1h-5zM419 512h5v1h-5zM402 513h20v1h-20zM404 514h16v1h-16z"/>
</g>
<g shape-rendering="crispEdges">
<path fill="#ff0000" d="M219 542h1v1h-1zM223 542h2v1h-2zM218 543h1v1h-1zM225 543h1v1h-1zM217 544h1v1h-1zM229 545h1v1h-1zM230 546h1v1h-1zM154 547h2v1h-2zM231 547h1v1h-1zM235 547h2v1h-2zM32 548h3v1h-3zM150 548h1v1h-1zM156 548h1v1h-1zM214 548h1v1h-1zM237 548h1v1h-1zM38 549h1v1h-1zM148 549h2v1h-2zM214 549h1v1h-1zM39 550h1v1h-1zM213 550h1v1h-1zM28 551h1v1h-1zM39 551h1v1h-1zM159 551h1v1h-1zM240 551h1v1h-1zM27 552h1v1h-1zM144 552h1v1h-1zM160 552h1v1h-1zM240 552h1v1h-1zM26 553h1v1h-1zM143 553h1v1h-1zM160 553h1v1h-1zM241 553h1v1h-1zM142 554h1v1h-1zM210 554h1v1h-1zM41 555h1v1h-1zM209 555h1v1h-1zM42 556h1v1h-1zM209 556h1v1h-1zM24 557h1v1h-1zM42 557h1v1h-1zM162 557h1v1h-1zM243 557h1v1h-1zM24 558h1v1h-1zM139 558h1v1h-1zM163 558h1v1h-1zM243 558h1v1h-1zM23 559h1v1h-1zM138 559h1v1h-1zM163 559h1v1h-1zM243 559h1v1h-1zM137 560h1v1h-1zM206 560h1v1h-1zM442 560h2v1h-2zM44 561h1v1h-1zM205 561h1v1h-1zM441 561h1v1h-1zM44 562h1v1h-1zM205 562h1v1h-1zM435 562h3v1h-3zM21 563h1v1h-1zM44 563h1v1h-1zM131 563h3v1h-3zM165 563h1v1h-1zM244 563h1v1h-1zM527 563h1v1h-1zM21 564h1v1h-1zM165 564h1v1h-1zM244 564h1v1h-1zM431 564h1v1h-1zM446 564h1v1h-1zM526 564h1v1h-1zM20 565h1v1h-1zM166 565h1v1h-1zM244 565h1v1h-1zM337 565h1v1h-1zM341 565h1v1h-1zM430 565h1v1h-1zM447 565h1v1h-1zM526 565h1v1h-1zM528 565h1v1h-1zM203 566h1v1h-1zM337 566h1v1h-1zM342 566h1v1h-1zM430 566h1v1h-1zM447 566h1v1h-1zM528 566h1v1h-1zM45 567h1v1h-1zM128 567h1v1h-1zM202 567h1v1h-1zM336 567h1v1h-1zM343 567h1v1h-1zM528 567h1v1h-1zM45 568h1v1h-1zM127 568h1v1h-1zM202 568h1v1h-1zM16 569h2v1h-2zM45 569h1v1h-1zM127 569h1v1h-1zM167 569h1v1h-1zM245 569h1v1h-1zM525 569h1v1h-1zM15 570h1v1h-1zM167 570h1v1h-1zM246 570h1v1h-1zM427 570h1v1h-1zM448 570h1v1h-1zM525 570h1v1h-1zM11 571h1v1h-1zM168 571h1v1h-1zM246 571h1v1h-1zM333 571h1v1h-1zM344 571h1v1h-1zM427 571h1v1h-1zM449 571h1v1h-1zM524 571h1v1h-1zM530 571h1v1h-1zM9 572h2v1h-2zM200 572h1v1h-1zM332 572h1v1h-1zM344 572h1v1h-1zM426 572h1v1h-1zM449 572h1v1h-1zM530 572h1v1h-1zM46 573h1v1h-1zM125 573h1v1h-1zM200 573h1v1h-1zM331 573h1v1h-1zM344 573h1v1h-1zM530 573h1v1h-1zM5 574h1v1h-1zM46 574h1v1h-1zM125 574h1v1h-1zM199 574h1v1h-1zM3 575h2v1h-2zM46 575h1v1h-1zM125 575h1v1h-1zM170 575h1v1h-1zM247 575h1v1h-1zM523 575h1v1h-1zM170 576h1v1h-1zM247 576h1v1h-1zM425 576h1v1h-1zM450 576h1v1h-1zM523 576h1v1h-1zM171 577h1v1h-1zM247 577h1v1h-1zM327 577h1v1h-1zM345 577h1v1h-1zM424 577h1v1h-1zM450 577h1v1h-1zM523 577h1v1h-1zM531 577h1v1h-1zM198 578h1v1h-1zM326 578h1v1h-1zM345 578h1v1h-1zM424 578h1v1h-1zM451 578h1v1h-1zM531 578h1v1h-1zM47 579h1v1h-1zM123 579h1v1h-1zM198 579h1v1h-1zM326 579h1v1h-1zM345 579h1v1h-1zM531 579h1v1h-1zM47 580h1v1h-1zM123 580h1v1h-1zM197 580h1v1h-1zM47 581h1v1h-1zM123 581h1v1h-1zM173 581h1v1h-1zM248 581h1v1h-1zM522 581h1v1h-1zM174 582h1v1h-1zM248 582h1v1h-1zM422 582h1v1h-1zM452 582h1v1h-1zM522 582h1v1h-1zM174 583h1v1h-1zM248 583h1v1h-1zM324 583h1v1h-1zM346 583h1v1h-1zM422 583h1v1h-1zM452 583h1v1h-1zM522 583h1v1h-1zM532 583h1v1h-1zM196 584h1v1h-1zM323 584h1v1h-1zM346 584h1v1h-1zM422 584h1v1h-1zM452 584h1v1h-1zM532 584h1v1h-1zM48 585h1v1h-1zM122 585h1v1h-1zM178 585h1v1h-1zM196 585h1v1h-1zM323 585h1v1h-1zM346 585h1v1h-1zM532 585h1v1h-1zM48 586h1v1h-1zM122 586h1v1h-1zM179 586h2v1h-2zM195 586h1v1h-1zM48 587h1v1h-1zM122 587h1v1h-1zM184 587h2v1h-2zM249 587h1v1h-1zM521 587h1v1h-1zM186 588h1v1h-1zM249 588h1v1h-1zM421 588h1v1h-1zM453 588h1v1h-1zM521 588h1v1h-1zM192 589h1v1h-1zM249 589h1v1h-1zM321 589h1v1h-1zM347 589h1v1h-1zM420 589h1v1h-1zM453 589h1v1h-1zM521 589h1v1h-1zM533 589h1v1h-1zM190 590h2v1h-2zM321 590h1v1h-1zM347 590h1v1h-1zM420 590h1v1h-1zM453 590h1v1h-1zM533 590h1v1h-1zM49 591h1v1h-1zM121 591h1v1h-1zM320 591h1v1h-1zM347 591h1v1h-1zM533 591h1v1h-1zM49 592h1v1h-1zM120 592h1v1h-1zM49 593h1v1h-1zM120 593h1v1h-1zM250 593h1v1h-1zM521 593h1v1h-1zM577 593h2v1h-2zM582 593h1v1h-1zM250 594h1v1h-1zM419 594h1v1h-1zM454 594h1v1h-1zM521 594h1v1h-1zM576 594h1v1h-1zM583 594h2v1h-2zM250 595h1v1h-1zM319 595h1v1h-1zM348 595h1v1h-1zM418 595h1v1h-1zM454 595h1v1h-1zM520 595h1v1h-1zM534 595h1v1h-1zM590 595h1v1h-1zM318 596h1v1h-1zM348 596h1v1h-1zM418 596h1v1h-1zM454 596h1v1h-1zM534 596h1v1h-1zM588 596h2v1h-2zM50 597h1v1h-1zM119 597h1v1h-1zM318 597h1v1h-1zM348 597h1v1h-1zM534 597h1v1h-1zM574 597h1v1h-1zM50 598h1v1h-1zM119 598h1v1h-1zM574 598h1v1h-1zM593 598h1v1h-1zM50 599h1v1h-1zM119 599h1v1h-1zM251 599h1v1h-1zM520 599h1v1h-1zM573 599h1v1h-1zM594 599h1v1h-1zM252 600h1v1h-1zM417 600h1v1h-1zM455 600h1v1h-1zM520 600h1v1h-1zM594 600h1v1h-1zM252 601h1v1h-1zM317 601h1v1h-1zM348 601h1v1h-1zM416 601h1v1h-1zM455 601h1v1h-1zM520 601h1v1h-1zM535 601h1v1h-1zM317 602h1v1h-1zM348 602h1v1h-1zM416 602h1v1h-1zM455 602h1v1h-1zM535 602h1v1h-1zM51 603h1v1h-1zM118 603h1v1h-1zM317 603h1v1h-1zM348 603h1v1h-1zM535 603h1v1h-1zM572 603h1v1h-1zM51 604h1v1h-1zM118 604h1v1h-1zM572 604h1v1h-1zM596 604h1v1h-1zM51 605h1v1h-1zM118 605h1v1h-1zM253 605h1v1h-1zM519 605h1v1h-1zM571 605h1v1h-1zM596 605h1v1h-1zM253 606h1v1h-1zM415 606h1v1h-1zM456 606h1v1h-1zM519 606h1v1h-1zM597 606h1v1h-1zM253 607h1v1h-1zM316 607h1v1h-1zM349 607h1v1h-1zM414 607h1v1h-1zM457 607h1v1h-1zM519 607h1v1h-1zM536 607h1v1h-1zM315 608h1v1h-1zM349 608h1v1h-1zM414 608h1v1h-1zM457 608h1v1h-1zM536 608h1v1h-1zM52 609h1v1h-1zM117 609h1v1h-1zM315 609h1v1h-1zM349 609h1v1h-1zM536 609h1v1h-1zM570 609h1v1h-1zM52 610h1v1h-1zM116 610h1v1h-1zM570 610h1v1h-1zM598 610h1v1h-1zM52 611h1v1h-1zM116 611h1v1h-1zM254 611h1v1h-1zM518 611h1v1h-1zM570 611h1v1h-1zM599 611h1v1h-1zM255 612h1v1h-1zM413 612h1v1h-1zM458 612h1v1h-1zM518 612h1v1h-1zM599 612h1v1h-1zM255 613h1v1h-1zM314 613h1v1h-1zM349 613h1v1h-1zM413 613h1v1h-1zM458 613h1v1h-1zM518 613h1v1h-1zM536 613h1v1h-1zM314 614h1v1h-1zM350 614h1v1h-1zM412 614h1v1h-1zM458 614h1v1h-1zM536 614h1v1h-1zM53 615h1v1h-1zM115 615h1v1h-1zM313 615h1v1h-1zM350 615h1v1h-1zM537 615h1v1h-1zM569 615h1v1h-1zM53 616h1v1h-1zM115 616h1v1h-1zM569 616h1v1h-1zM54 617h1v1h-1zM115 617h1v1h-1zM258 617h1v1h-1zM518 617h1v1h-1zM569 617h1v1h-1zM258 618h1v1h-1zM411 618h1v1h-1zM459 618h1v1h-1zM518 618h1v1h-1zM65 619h1v1h-1zM259 619h1v1h-1zM263 619h1v1h-1zM312 619h1v1h-1zM350 619h1v1h-1zM411 619h1v1h-1zM459 619h1v1h-1zM517 619h1v1h-1zM537 619h1v1h-1zM63 620h2v1h-2zM68 620h1v1h-1zM264 620h1v1h-1zM312 620h1v1h-1zM350 620h1v1h-1zM410 620h1v1h-1zM460 620h1v1h-1zM537 620h1v1h-1zM54 621h1v1h-1zM68 621h1v1h-1zM114 621h1v1h-1zM265 621h1v1h-1zM311 621h1v1h-1zM350 621h1v1h-1zM537 621h1v1h-1zM568 621h1v1h-1zM55 622h1v1h-1zM68 622h1v1h-1zM113 622h1v1h-1zM568 622h1v1h-1zM55 623h1v1h-1zM113 623h1v1h-1zM517 623h1v1h-1zM568 623h1v1h-1zM60 624h1v1h-1zM409 624h1v1h-1zM461 624h1v1h-1zM517 624h1v1h-1zM58 625h2v1h-2zM267 625h1v1h-1zM309 625h1v1h-1zM351 625h1v1h-1zM409 625h1v1h-1zM462 625h1v1h-1zM517 625h1v1h-1zM538 625h1v1h-1zM69 626h1v1h-1zM268 626h1v1h-1zM309 626h1v1h-1zM351 626h1v1h-1zM409 626h1v1h-1zM462 626h1v1h-1zM538 626h1v1h-1zM69 627h1v1h-1zM112 627h1v1h-1zM268 627h1v1h-1zM308 627h1v1h-1zM351 627h1v1h-1zM538 627h1v1h-1zM567 627h1v1h-1zM70 628h1v1h-1zM112 628h1v1h-1zM567 628h1v1h-1zM112 629h1v1h-1zM516 629h1v1h-1zM566 629h1v1h-1zM408 630h1v1h-1zM465 630h1v1h-1zM516 630h1v1h-1zM269 631h1v1h-1zM306 631h1v1h-1zM351 631h1v1h-1zM408 631h1v1h-1zM466 631h1v1h-1zM516 631h1v1h-1zM539 631h1v1h-1zM71 632h1v1h-1zM269 632h1v1h-1zM306 632h1v1h-1zM352 632h1v1h-1zM407 632h1v1h-1zM467 632h1v1h-1zM539 632h1v1h-1zM71 633h1v1h-1zM111 633h1v1h-1zM270 633h1v1h-1zM305 633h1v1h-1zM352 633h1v1h-1zM539 633h1v1h-1zM565 633h1v1h-1zM71 634h1v1h-1zM111 634h1v1h-1zM565 634h1v1h-1zM110 635h1v1h-1zM516 635h1v1h-1zM565 635h1v1h-1zM407 636h1v1h-1zM469 636h1v1h-1zM515 636h1v1h-1zM271 637h1v1h-1zM303 637h1v1h-1zM352 637h1v1h-1zM406 637h1v1h-1zM469 637h1v1h-1zM515 637h1v1h-1zM540 637h1v1h-1zM72 638h1v1h-1zM271 638h1v1h-1zM303 638h1v1h-1zM352 638h1v1h-1zM406 638h1v1h-1zM469 638h1v1h-1zM540 638h1v1h-1zM72 639h1v1h-1zM109 639h1v1h-1zM271 639h1v1h-1zM303 639h1v1h-1zM352 639h1v1h-1zM540 639h1v1h-1zM564 639h1v1h-1zM73 640h1v1h-1zM109 640h1v1h-1zM564 640h1v1h-1zM109 641h1v1h-1zM515 641h1v1h-1zM564 641h1v1h-1zM405 642h1v1h-1zM471 642h1v1h-1zM515 642h1v1h-1zM272 643h1v1h-1zM301 643h1v1h-1zM353 643h1v1h-1zM405 643h1v1h-1zM471 643h1v1h-1zM514 643h1v1h-1zM541 643h1v1h-1zM74 644h1v1h-1zM272 644h1v1h-1zM301 644h1v1h-1zM353 644h1v1h-1zM405 644h1v1h-1zM472 644h1v1h-1zM541 644h1v1h-1zM74 645h1v1h-1zM108 645h1v1h-1zM273 645h1v1h-1zM300 645h1v1h-1zM353 645h1v1h-1zM541 645h1v1h-1zM563 645h1v1h-1zM74 646h1v1h-1zM108 646h1v1h-1zM562 646h1v1h-1zM107 647h1v1h-1zM514 647h1v1h-1zM562 647h1v1h-1zM404 648h1v1h-1zM473 648h1v1h-1zM513 648h1v1h-1zM274 649h1v1h-1zM299 649h1v1h-1zM354 649h1v1h-1zM404 649h1v1h-1zM473 649h1v1h-1zM513 649h1v1h-1zM542 649h1v1h-1zM75 650h1v1h-1zM274 650h1v1h-1zM299 650h1v1h-1zM354 650h1v1h-1zM404 650h1v1h-1zM473 650h1v1h-1zM542 650h1v1h-1zM75 651h1v1h-1zM106 651h1v1h-1zM274 651h1v1h-1zM298 651h1v1h-1zM354 651h1v1h-1zM542 651h1v1h-1zM561 651h1v1h-1zM76 652h1v1h-1zM106 652h1v1h-1zM561 652h1v1h-1zM106 653h1v1h-1zM512 653h1v1h-1zM560 653h1v1h-1zM403 654h1v1h-1zM475 654h1v1h-1zM512 654h1v1h-1zM275 655h1v1h-1zM297 655h1v1h-1zM354 655h1v1h-1zM403 655h1v1h-1zM475 655h1v1h-1zM501 655h1v1h-1zM512 655h1v1h-1zM543 655h1v1h-1zM76 656h1v1h-1zM275 656h1v1h-1zM297 656h1v1h-1zM355 656h1v1h-1zM402 656h1v1h-1zM475 656h1v1h-1zM497 656h1v1h-1zM502 656h1v1h-1zM543 656h1v1h-1zM77 657h1v1h-1zM105 657h1v1h-1zM275 657h1v1h-1zM297 657h1v1h-1zM355 657h1v1h-1zM496 657h1v1h-1zM503 657h1v1h-1zM543 657h1v1h-1zM559 657h1v1h-1zM77 658h1v1h-1zM105 658h1v1h-1zM495 658h1v1h-1zM559 658h1v1h-1zM104 659h1v1h-1zM511 659h1v1h-1zM559 659h1v1h-1zM401 660h1v1h-1zM476 660h1v1h-1zM511 660h1v1h-1zM277 661h1v1h-1zM296 661h1v1h-1zM355 661h1v1h-1zM401 661h1v1h-1zM477 661h1v1h-1zM505 661h1v1h-1zM510 661h1v1h-1zM544 661h1v1h-1zM77 662h1v1h-1zM277 662h1v1h-1zM296 662h1v1h-1zM356 662h1v1h-1zM401 662h1v1h-1zM477 662h1v1h-1zM494 662h1v1h-1zM506 662h1v1h-1zM544 662h1v1h-1zM78 663h1v1h-1zM103 663h1v1h-1zM278 663h1v1h-1zM295 663h1v1h-1zM356 663h1v1h-1zM493 663h1v1h-1zM506 663h1v1h-1zM545 663h1v1h-1zM557 663h1v1h-1zM78 664h1v1h-1zM103 664h1v1h-1zM493 664h1v1h-1zM557 664h1v1h-1zM102 665h1v1h-1zM556 665h1v1h-1zM400 666h1v1h-1zM478 666h1v1h-1zM279 667h2v1h-2zM292 667h2v1h-2zM357 667h1v1h-1zM400 667h1v1h-1zM478 667h1v1h-1zM546 667h1v1h-1zM79 668h1v1h-1zM281 668h1v1h-1zM291 668h1v1h-1zM357 668h1v1h-1zM399 668h1v1h-1zM478 668h1v1h-1zM492 668h1v1h-1zM546 668h1v1h-1zM79 669h1v1h-1zM100 669h1v1h-1zM285 669h3v1h-3zM357 669h1v1h-1zM386 669h2v1h-2zM492 669h1v1h-1zM546 669h1v1h-1zM555 669h1v1h-1zM79 670h1v1h-1zM100 670h1v1h-1zM388 670h1v1h-1zM491 670h1v1h-1zM554 670h1v1h-1zM99 671h1v1h-1zM382 671h1v1h-1zM554 671h1v1h-1zM382 672h1v1h-1zM398 672h1v1h-1zM480 672h1v1h-1zM94 673h2v1h-2zM358 673h1v1h-1zM381 673h1v1h-1zM397 673h1v1h-1zM480 673h1v1h-1zM549 673h1v1h-1zM82 674h1v1h-1zM93 674h1v1h-1zM359 674h1v1h-1zM392 674h1v1h-1zM397 674h1v1h-1zM481 674h1v1h-1zM489 674h1v1h-1zM550 674h1v1h-1zM82 675h1v1h-1zM359 675h1v1h-1zM393 675h1v1h-1zM489 675h1v1h-1zM551 675h1v1h-1zM83 676h1v1h-1zM89 676h1v1h-1zM394 676h1v1h-1zM488 676h1v1h-1zM88 677h1v1h-1zM362 677h2v1h-2zM378 677h1v1h-1zM87 678h1v1h-1zM364 678h1v1h-1zM378 678h1v1h-1zM483 678h3v1h-3zM377 679h1v1h-1zM367 682h3v1h-3zM373 682h1v1h-1zM374 683h2v1h-2z"/>
<path fill="#20b2aa" d="M215 540h5v1h-5zM214 541h1v1h-1zM220 541h1v1h-1zM214 542h1v1h-1zM220 542h1v1h-1zM213 543h1v1h-1zM221 543h1v1h-1zM212 544h1v1h-1zM222 544h1v1h-1zM212 545h1v1h-1zM222 545h1v1h-1zM27 546h1v1h-1zM150 546h3v1h-3zM211 546h1v1h-1zM223 546h3v1h-3zM234 546h2v1h-2zM26 547h1v1h-1zM28 547h2v1h-2zM147 547h3v1h-3zM153 547h2v1h-2zM211 547h1v1h-1zM226 547h8v1h-8zM235 547h1v1h-1zM25 548h1v1h-1zM30 548h1v1h-1zM145 548h2v1h-2zM155 548h1v1h-1zM210 548h1v1h-1zM236 548h1v1h-1zM24 549h1v1h-1zM31 549h5v1h-5zM143 549h2v1h-2zM155 549h1v1h-1zM210 549h1v1h-1zM236 549h1v1h-1zM23 550h1v1h-1zM36 550h1v1h-1zM142 550h1v1h-1zM156 550h1v1h-1zM209 550h1v1h-1zM237 550h1v1h-1zM23 551h1v1h-1zM37 551h1v1h-1zM141 551h1v1h-1zM156 551h1v1h-1zM209 551h1v1h-1zM237 551h1v1h-1zM22 552h1v1h-1zM37 552h1v1h-1zM140 552h1v1h-1zM157 552h1v1h-1zM208 552h1v1h-1zM238 552h1v1h-1zM22 553h1v1h-1zM38 553h1v1h-1zM139 553h1v1h-1zM157 553h1v1h-1zM208 553h1v1h-1zM238 553h1v1h-1zM523 553h1v1h-1zM21 554h1v1h-1zM39 554h1v1h-1zM138 554h1v1h-1zM158 554h1v1h-1zM207 554h1v1h-1zM239 554h1v1h-1zM523 554h1v1h-1zM21 555h1v1h-1zM39 555h1v1h-1zM137 555h1v1h-1zM158 555h1v1h-1zM207 555h1v1h-1zM239 555h1v1h-1zM522 555h2v1h-2zM21 556h1v1h-1zM39 556h1v1h-1zM137 556h1v1h-1zM159 556h1v1h-1zM206 556h1v1h-1zM239 556h1v1h-1zM522 556h1v1h-1zM524 556h1v1h-1zM20 557h1v1h-1zM40 557h1v1h-1zM136 557h1v1h-1zM159 557h1v1h-1zM205 557h1v1h-1zM240 557h1v1h-1zM339 557h1v1h-1zM522 557h1v1h-1zM524 557h1v1h-1zM20 558h1v1h-1zM40 558h1v1h-1zM135 558h1v1h-1zM159 558h1v1h-1zM204 558h1v1h-1zM240 558h1v1h-1zM338 558h2v1h-2zM521 558h1v1h-1zM524 558h1v1h-1zM19 559h1v1h-1zM40 559h1v1h-1zM134 559h1v1h-1zM160 559h1v1h-1zM203 559h1v1h-1zM240 559h1v1h-1zM338 559h2v1h-2zM521 559h1v1h-1zM524 559h1v1h-1zM19 560h1v1h-1zM40 560h1v1h-1zM133 560h1v1h-1zM160 560h1v1h-1zM201 560h2v1h-2zM240 560h1v1h-1zM337 560h1v1h-1zM340 560h1v1h-1zM435 560h3v1h-3zM442 560h2v1h-2zM520 560h1v1h-1zM525 560h1v1h-1zM19 561h1v1h-1zM40 561h1v1h-1zM133 561h1v1h-1zM160 561h1v1h-1zM199 561h2v1h-2zM240 561h1v1h-1zM337 561h1v1h-1zM340 561h1v1h-1zM434 561h1v1h-1zM438 561h4v1h-4zM443 561h1v1h-1zM520 561h1v1h-1zM525 561h1v1h-1zM18 562h1v1h-1zM41 562h1v1h-1zM123 562h2v1h-2zM132 562h1v1h-1zM161 562h1v1h-1zM199 562h1v1h-1zM241 562h1v1h-1zM336 562h1v1h-1zM340 562h1v1h-1zM427 562h2v1h-2zM433 562h1v1h-1zM444 562h1v1h-1zM520 562h1v1h-1zM525 562h1v1h-1zM18 563h1v1h-1zM41 563h1v1h-1zM123 563h1v1h-1zM125 563h2v1h-2zM130 563h2v1h-2zM161 563h1v1h-1zM198 563h1v1h-1zM241 563h1v1h-1zM336 563h1v1h-1zM340 563h1v1h-1zM426 563h1v1h-1zM429 563h2v1h-2zM432 563h1v1h-1zM444 563h1v1h-1zM519 563h1v1h-1zM525 563h1v1h-1zM18 564h1v1h-1zM41 564h1v1h-1zM123 564h1v1h-1zM127 564h3v1h-3zM161 564h1v1h-1zM198 564h1v1h-1zM241 564h1v1h-1zM335 564h1v1h-1zM340 564h1v1h-1zM425 564h1v1h-1zM431 564h1v1h-1zM444 564h1v1h-1zM519 564h1v1h-1zM526 564h1v1h-1zM17 565h1v1h-1zM41 565h1v1h-1zM122 565h1v1h-1zM161 565h1v1h-1zM198 565h1v1h-1zM241 565h1v1h-1zM335 565h1v1h-1zM340 565h1v1h-1zM425 565h1v1h-1zM444 565h1v1h-1zM519 565h1v1h-1zM526 565h1v1h-1zM17 566h1v1h-1zM42 566h1v1h-1zM122 566h1v1h-1zM162 566h1v1h-1zM198 566h1v1h-1zM241 566h1v1h-1zM333 566h2v1h-2zM341 566h1v1h-1zM424 566h1v1h-1zM445 566h1v1h-1zM519 566h1v1h-1zM526 566h1v1h-1zM16 567h1v1h-1zM42 567h1v1h-1zM122 567h1v1h-1zM162 567h1v1h-1zM197 567h1v1h-1zM242 567h1v1h-1zM331 567h2v1h-2zM341 567h1v1h-1zM423 567h1v1h-1zM445 567h1v1h-1zM519 567h1v1h-1zM526 567h1v1h-1zM16 568h1v1h-1zM42 568h1v1h-1zM122 568h1v1h-1zM162 568h1v1h-1zM197 568h1v1h-1zM242 568h1v1h-1zM330 568h1v1h-1zM341 568h1v1h-1zM423 568h1v1h-1zM445 568h1v1h-1zM519 568h1v1h-1zM527 568h1v1h-1zM7 569h6v1h-6zM16 569h1v1h-1zM42 569h1v1h-1zM121 569h1v1h-1zM163 569h1v1h-1zM197 569h1v1h-1zM242 569h1v1h-1zM330 569h1v1h-1zM341 569h1v1h-1zM422 569h1v1h-1zM445 569h1v1h-1zM519 569h1v1h-1zM527 569h1v1h-1zM6 570h1v1h-1zM13 570h3v1h-3zM42 570h1v1h-1zM121 570h1v1h-1zM163 570h1v1h-1zM196 570h1v1h-1zM242 570h1v1h-1zM329 570h1v1h-1zM341 570h1v1h-1zM422 570h1v1h-1zM446 570h1v1h-1zM518 570h1v1h-1zM527 570h1v1h-1zM5 571h1v1h-1zM15 571h1v1h-1zM43 571h1v1h-1zM121 571h1v1h-1zM163 571h1v1h-1zM196 571h1v1h-1zM242 571h1v1h-1zM328 571h1v1h-1zM341 571h1v1h-1zM422 571h1v1h-1zM446 571h1v1h-1zM518 571h1v1h-1zM527 571h1v1h-1zM5 572h1v1h-1zM43 572h1v1h-1zM121 572h1v1h-1zM164 572h1v1h-1zM196 572h1v1h-1zM243 572h1v1h-1zM328 572h1v1h-1zM342 572h1v1h-1zM421 572h1v1h-1zM446 572h1v1h-1zM518 572h1v1h-1zM527 572h1v1h-1zM4 573h1v1h-1zM43 573h1v1h-1zM120 573h1v1h-1zM164 573h1v1h-1zM196 573h1v1h-1zM243 573h1v1h-1zM327 573h1v1h-1zM342 573h1v1h-1zM421 573h1v1h-1zM446 573h1v1h-1zM518 573h1v1h-1zM527 573h1v1h-1zM3 574h1v1h-1zM43 574h1v1h-1zM120 574h1v1h-1zM165 574h1v1h-1zM195 574h1v1h-1zM243 574h1v1h-1zM326 574h1v1h-1zM342 574h1v1h-1zM421 574h1v1h-1zM447 574h1v1h-1zM518 574h1v1h-1zM527 574h1v1h-1zM43 575h1v1h-1zM120 575h1v1h-1zM165 575h1v1h-1zM195 575h1v1h-1zM243 575h1v1h-1zM326 575h1v1h-1zM342 575h1v1h-1zM421 575h1v1h-1zM447 575h1v1h-1zM518 575h1v1h-1zM528 575h1v1h-1zM43 576h1v1h-1zM120 576h1v1h-1zM166 576h1v1h-1zM195 576h1v1h-1zM243 576h1v1h-1zM325 576h1v1h-1zM342 576h1v1h-1zM420 576h1v1h-1zM447 576h1v1h-1zM518 576h1v1h-1zM528 576h1v1h-1zM43 577h1v1h-1zM119 577h1v1h-1zM166 577h1v1h-1zM194 577h1v1h-1zM243 577h1v1h-1zM324 577h1v1h-1zM342 577h1v1h-1zM420 577h1v1h-1zM447 577h1v1h-1zM518 577h1v1h-1zM528 577h1v1h-1zM44 578h1v1h-1zM119 578h1v1h-1zM167 578h1v1h-1zM194 578h1v1h-1zM244 578h1v1h-1zM324 578h1v1h-1zM343 578h1v1h-1zM420 578h1v1h-1zM447 578h1v1h-1zM518 578h1v1h-1zM528 578h1v1h-1zM44 579h1v1h-1zM119 579h1v1h-1zM167 579h1v1h-1zM194 579h1v1h-1zM244 579h1v1h-1zM322 579h2v1h-2zM343 579h1v1h-1zM419 579h1v1h-1zM448 579h1v1h-1zM518 579h1v1h-1zM528 579h1v1h-1zM44 580h1v1h-1zM119 580h1v1h-1zM168 580h1v1h-1zM194 580h1v1h-1zM244 580h1v1h-1zM319 580h3v1h-3zM343 580h1v1h-1zM419 580h1v1h-1zM448 580h1v1h-1zM518 580h1v1h-1zM528 580h1v1h-1zM44 581h1v1h-1zM119 581h1v1h-1zM168 581h1v1h-1zM193 581h1v1h-1zM244 581h1v1h-1zM319 581h1v1h-1zM343 581h1v1h-1zM419 581h1v1h-1zM448 581h1v1h-1zM517 581h1v1h-1zM528 581h1v1h-1zM44 582h1v1h-1zM118 582h1v1h-1zM169 582h1v1h-1zM193 582h1v1h-1zM244 582h1v1h-1zM318 582h1v1h-1zM343 582h1v1h-1zM418 582h1v1h-1zM448 582h1v1h-1zM517 582h1v1h-1zM528 582h1v1h-1zM44 583h1v1h-1zM118 583h1v1h-1zM170 583h1v1h-1zM193 583h1v1h-1zM244 583h1v1h-1zM318 583h1v1h-1zM343 583h1v1h-1zM418 583h1v1h-1zM448 583h1v1h-1zM517 583h1v1h-1zM529 583h1v1h-1zM44 584h1v1h-1zM118 584h1v1h-1zM170 584h1v1h-1zM192 584h1v1h-1zM244 584h1v1h-1zM318 584h1v1h-1zM343 584h1v1h-1zM418 584h1v1h-1zM448 584h1v1h-1zM517 584h1v1h-1zM529 584h1v1h-1zM44 585h1v1h-1zM118 585h1v1h-1zM171 585h1v1h-1zM182 585h2v1h-2zM192 585h1v1h-1zM245 585h1v1h-1zM318 585h1v1h-1zM343 585h1v1h-1zM417 585h1v1h-1zM448 585h1v1h-1zM517 585h1v1h-1zM529 585h1v1h-1zM44 586h1v1h-1zM118 586h1v1h-1zM172 586h2v1h-2zM179 586h3v1h-3zM183 586h1v1h-1zM192 586h1v1h-1zM245 586h1v1h-1zM317 586h1v1h-1zM343 586h1v1h-1zM417 586h1v1h-1zM449 586h1v1h-1zM517 586h1v1h-1zM529 586h1v1h-1zM45 587h1v1h-1zM117 587h1v1h-1zM174 587h1v1h-1zM177 587h2v1h-2zM184 587h1v1h-1zM192 587h1v1h-1zM245 587h1v1h-1zM317 587h1v1h-1zM344 587h1v1h-1zM417 587h1v1h-1zM449 587h1v1h-1zM517 587h1v1h-1zM529 587h1v1h-1zM45 588h1v1h-1zM117 588h1v1h-1zM175 588h2v1h-2zM184 588h1v1h-1zM191 588h1v1h-1zM245 588h1v1h-1zM317 588h1v1h-1zM344 588h1v1h-1zM417 588h1v1h-1zM449 588h1v1h-1zM517 588h1v1h-1zM529 588h1v1h-1zM45 589h1v1h-1zM117 589h1v1h-1zM184 589h1v1h-1zM191 589h1v1h-1zM245 589h1v1h-1zM317 589h1v1h-1zM344 589h1v1h-1zM416 589h1v1h-1zM449 589h1v1h-1zM517 589h1v1h-1zM529 589h1v1h-1zM571 589h3v1h-3zM45 590h1v1h-1zM117 590h1v1h-1zM185 590h1v1h-1zM190 590h1v1h-1zM245 590h1v1h-1zM316 590h1v1h-1zM344 590h1v1h-1zM416 590h1v1h-1zM449 590h1v1h-1zM517 590h1v1h-1zM529 590h1v1h-1zM571 590h1v1h-1zM574 590h2v1h-2zM45 591h1v1h-1zM117 591h1v1h-1zM185 591h1v1h-1zM190 591h1v1h-1zM245 591h1v1h-1zM316 591h1v1h-1zM344 591h1v1h-1zM416 591h1v1h-1zM449 591h1v1h-1zM517 591h1v1h-1zM529 591h1v1h-1zM570 591h1v1h-1zM575 591h1v1h-1zM45 592h1v1h-1zM117 592h1v1h-1zM186 592h1v1h-1zM189 592h1v1h-1zM245 592h1v1h-1zM316 592h1v1h-1zM344 592h1v1h-1zM415 592h1v1h-1zM449 592h1v1h-1zM516 592h1v1h-1zM530 592h1v1h-1zM570 592h1v1h-1zM576 592h1v1h-1zM45 593h1v1h-1zM116 593h1v1h-1zM186 593h1v1h-1zM189 593h1v1h-1zM246 593h1v1h-1zM316 593h1v1h-1zM344 593h1v1h-1zM415 593h1v1h-1zM450 593h1v1h-1zM516 593h1v1h-1zM530 593h1v1h-1zM570 593h1v1h-1zM576 593h1v1h-1zM583 593h1v1h-1zM45 594h1v1h-1zM116 594h1v1h-1zM186 594h1v1h-1zM188 594h1v1h-1zM246 594h1v1h-1zM315 594h1v1h-1zM344 594h1v1h-1zM415 594h1v1h-1zM450 594h1v1h-1zM516 594h1v1h-1zM530 594h1v1h-1zM570 594h1v1h-1zM577 594h1v1h-1zM582 594h1v1h-1zM584 594h1v1h-1zM45 595h1v1h-1zM116 595h1v1h-1zM187 595h2v1h-2zM246 595h1v1h-1zM315 595h1v1h-1zM344 595h1v1h-1zM414 595h1v1h-1zM450 595h1v1h-1zM516 595h1v1h-1zM530 595h1v1h-1zM569 595h1v1h-1zM577 595h1v1h-1zM581 595h1v1h-1zM585 595h1v1h-1zM45 596h1v1h-1zM116 596h1v1h-1zM187 596h1v1h-1zM246 596h1v1h-1zM315 596h1v1h-1zM344 596h1v1h-1zM414 596h1v1h-1zM450 596h1v1h-1zM516 596h1v1h-1zM530 596h1v1h-1zM569 596h1v1h-1zM578 596h1v1h-1zM581 596h1v1h-1zM586 596h1v1h-1zM590 596h2v1h-2zM46 597h1v1h-1zM116 597h1v1h-1zM246 597h1v1h-1zM314 597h1v1h-1zM344 597h1v1h-1zM414 597h1v1h-1zM450 597h1v1h-1zM516 597h1v1h-1zM530 597h1v1h-1zM569 597h1v1h-1zM578 597h1v1h-1zM580 597h1v1h-1zM587 597h3v1h-3zM591 597h1v1h-1zM46 598h1v1h-1zM115 598h1v1h-1zM246 598h1v1h-1zM314 598h1v1h-1zM344 598h1v1h-1zM414 598h1v1h-1zM450 598h1v1h-1zM516 598h1v1h-1zM530 598h1v1h-1zM568 598h1v1h-1zM579 598h1v1h-1zM592 598h1v1h-1zM46 599h1v1h-1zM115 599h1v1h-1zM246 599h1v1h-1zM313 599h1v1h-1zM344 599h1v1h-1zM413 599h1v1h-1zM450 599h1v1h-1zM516 599h1v1h-1zM530 599h1v1h-1zM568 599h1v1h-1zM592 599h1v1h-1zM46 600h1v1h-1zM115 600h1v1h-1zM247 600h1v1h-1zM313 600h1v1h-1zM345 600h1v1h-1zM413 600h1v1h-1zM451 600h1v1h-1zM516 600h1v1h-1zM531 600h1v1h-1zM568 600h1v1h-1zM592 600h1v1h-1zM46 601h1v1h-1zM115 601h1v1h-1zM247 601h1v1h-1zM313 601h1v1h-1zM345 601h1v1h-1zM413 601h1v1h-1zM451 601h1v1h-1zM516 601h1v1h-1zM531 601h1v1h-1zM568 601h1v1h-1zM592 601h1v1h-1zM46 602h1v1h-1zM115 602h1v1h-1zM247 602h1v1h-1zM312 602h1v1h-1zM345 602h1v1h-1zM412 602h1v1h-1zM451 602h1v1h-1zM516 602h1v1h-1zM531 602h1v1h-1zM567 602h1v1h-1zM593 602h1v1h-1zM46 603h1v1h-1zM114 603h1v1h-1zM247 603h1v1h-1zM312 603h1v1h-1zM345 603h1v1h-1zM412 603h1v1h-1zM451 603h1v1h-1zM515 603h1v1h-1zM531 603h1v1h-1zM567 603h1v1h-1zM593 603h1v1h-1zM46 604h1v1h-1zM114 604h1v1h-1zM247 604h1v1h-1zM311 604h1v1h-1zM345 604h1v1h-1zM412 604h1v1h-1zM451 604h1v1h-1zM515 604h1v1h-1zM531 604h1v1h-1zM567 604h1v1h-1zM593 604h1v1h-1zM46 605h1v1h-1zM114 605h1v1h-1zM247 605h1v1h-1zM311 605h1v1h-1zM345 605h1v1h-1zM412 605h1v1h-1zM451 605h1v1h-1zM515 605h1v1h-1zM531 605h1v1h-1zM567 605h1v1h-1zM594 605h1v1h-1zM47 606h1v1h-1zM114 606h1v1h-1zM248 606h1v1h-1zM311 606h1v1h-1zM345 606h1v1h-1zM411 606h1v1h-1zM452 606h1v1h-1zM515 606h1v1h-1zM531 606h1v1h-1zM566 606h1v1h-1zM594 606h1v1h-1zM47 607h1v1h-1zM113 607h1v1h-1zM248 607h1v1h-1zM311 607h1v1h-1zM345 607h1v1h-1zM411 607h1v1h-1zM452 607h1v1h-1zM515 607h1v1h-1zM531 607h1v1h-1zM566 607h1v1h-1zM594 607h1v1h-1zM47 608h1v1h-1zM113 608h1v1h-1zM248 608h1v1h-1zM310 608h1v1h-1zM345 608h1v1h-1zM410 608h1v1h-1zM452 608h1v1h-1zM515 608h1v1h-1zM531 608h1v1h-1zM566 608h1v1h-1zM594 608h1v1h-1zM47 609h1v1h-1zM113 609h1v1h-1zM248 609h1v1h-1zM310 609h1v1h-1zM345 609h1v1h-1zM410 609h1v1h-1zM452 609h1v1h-1zM515 609h1v1h-1zM532 609h1v1h-1zM566 609h1v1h-1zM595 609h1v1h-1zM47 610h1v1h-1zM113 610h1v1h-1zM249 610h1v1h-1zM310 610h1v1h-1zM345 610h1v1h-1zM409 610h1v1h-1zM452 610h1v1h-1zM515 610h1v1h-1zM532 610h1v1h-1zM566 610h1v1h-1zM595 610h1v1h-1zM47 611h1v1h-1zM113 611h1v1h-1zM249 611h1v1h-1zM310 611h1v1h-1zM345 611h1v1h-1zM409 611h1v1h-1zM453 611h1v1h-1zM515 611h1v1h-1zM532 611h1v1h-1zM566 611h1v1h-1zM595 611h1v1h-1zM47 612h1v1h-1zM112 612h1v1h-1zM249 612h1v1h-1zM310 612h1v1h-1zM346 612h1v1h-1zM408 612h1v1h-1zM453 612h1v1h-1zM515 612h1v1h-1zM532 612h1v1h-1zM565 612h1v1h-1zM595 612h1v1h-1zM48 613h1v1h-1zM59 613h1v1h-1zM112 613h1v1h-1zM249 613h1v1h-1zM310 613h1v1h-1zM346 613h1v1h-1zM408 613h1v1h-1zM453 613h1v1h-1zM514 613h1v1h-1zM532 613h1v1h-1zM565 613h1v1h-1zM596 613h1v1h-1zM48 614h1v1h-1zM59 614h2v1h-2zM112 614h1v1h-1zM250 614h1v1h-1zM309 614h1v1h-1zM346 614h1v1h-1zM407 614h1v1h-1zM453 614h1v1h-1zM514 614h1v1h-1zM532 614h1v1h-1zM565 614h1v1h-1zM596 614h1v1h-1zM48 615h1v1h-1zM58 615h1v1h-1zM60 615h1v1h-1zM112 615h1v1h-1zM250 615h1v1h-1zM309 615h1v1h-1zM346 615h1v1h-1zM407 615h1v1h-1zM453 615h1v1h-1zM514 615h1v1h-1zM532 615h1v1h-1zM565 615h1v1h-1zM596 615h1v1h-1zM48 616h1v1h-1zM58 616h1v1h-1zM61 616h1v1h-1zM111 616h1v1h-1zM250 616h1v1h-1zM309 616h1v1h-1zM346 616h1v1h-1zM407 616h1v1h-1zM454 616h1v1h-1zM514 616h1v1h-1zM532 616h1v1h-1zM565 616h1v1h-1zM596 616h1v1h-1zM48 617h1v1h-1zM58 617h1v1h-1zM62 617h1v1h-1zM111 617h1v1h-1zM250 617h1v1h-1zM309 617h1v1h-1zM346 617h1v1h-1zM407 617h1v1h-1zM454 617h1v1h-1zM514 617h1v1h-1zM533 617h1v1h-1zM565 617h1v1h-1zM596 617h1v1h-1zM48 618h1v1h-1zM58 618h1v1h-1zM62 618h1v1h-1zM111 618h1v1h-1zM251 618h1v1h-1zM309 618h1v1h-1zM346 618h1v1h-1zM406 618h1v1h-1zM454 618h1v1h-1zM514 618h1v1h-1zM533 618h1v1h-1zM564 618h1v1h-1zM597 618h1v1h-1zM49 619h1v1h-1zM57 619h1v1h-1zM63 619h1v1h-1zM111 619h1v1h-1zM251 619h13v1h-13zM309 619h1v1h-1zM346 619h1v1h-1zM406 619h1v1h-1zM454 619h1v1h-1zM514 619h1v1h-1zM533 619h1v1h-1zM564 619h1v1h-1zM597 619h1v1h-1zM49 620h1v1h-1zM57 620h1v1h-1zM64 620h2v1h-2zM110 620h1v1h-1zM263 620h1v1h-1zM308 620h1v1h-1zM346 620h1v1h-1zM406 620h1v1h-1zM454 620h1v1h-1zM514 620h1v1h-1zM533 620h1v1h-1zM564 620h1v1h-1zM597 620h1v1h-1zM49 621h1v1h-1zM57 621h1v1h-1zM66 621h1v1h-1zM110 621h1v1h-1zM263 621h1v1h-1zM308 621h1v1h-1zM346 621h1v1h-1zM406 621h1v1h-1zM455 621h1v1h-1zM514 621h1v1h-1zM533 621h1v1h-1zM564 621h1v1h-1zM597 621h1v1h-1zM49 622h1v1h-1zM57 622h1v1h-1zM67 622h1v1h-1zM110 622h1v1h-1zM264 622h1v1h-1zM308 622h1v1h-1zM346 622h1v1h-1zM405 622h1v1h-1zM455 622h1v1h-1zM514 622h1v1h-1zM533 622h1v1h-1zM564 622h1v1h-1zM598 622h1v1h-1zM49 623h1v1h-1zM56 623h1v1h-1zM67 623h1v1h-1zM109 623h1v1h-1zM264 623h1v1h-1zM308 623h1v1h-1zM346 623h1v1h-1zM405 623h1v1h-1zM455 623h1v1h-1zM513 623h1v1h-1zM533 623h1v1h-1zM564 623h1v1h-1zM598 623h1v1h-1zM49 624h1v1h-1zM56 624h1v1h-1zM67 624h1v1h-1zM109 624h1v1h-1zM264 624h1v1h-1zM308 624h1v1h-1zM346 624h1v1h-1zM405 624h1v1h-1zM456 624h1v1h-1zM513 624h1v1h-1zM533 624h1v1h-1zM563 624h1v1h-1zM598 624h1v1h-1zM50 625h1v1h-1zM56 625h1v1h-1zM67 625h1v1h-1zM109 625h1v1h-1zM264 625h1v1h-1zM308 625h1v1h-1zM347 625h1v1h-1zM405 625h1v1h-1zM456 625h1v1h-1zM513 625h1v1h-1zM534 625h1v1h-1zM563 625h1v1h-1zM598 625h1v1h-1zM50 626h1v1h-1zM56 626h1v1h-1zM67 626h1v1h-1zM109 626h1v1h-1zM265 626h1v1h-1zM307 626h1v1h-1zM347 626h1v1h-1zM405 626h1v1h-1zM457 626h1v1h-1zM513 626h1v1h-1zM534 626h1v1h-1zM563 626h1v1h-1zM598 626h1v1h-1zM50 627h1v1h-1zM55 627h1v1h-1zM68 627h1v1h-1zM108 627h1v1h-1zM265 627h1v1h-1zM307 627h1v1h-1zM347 627h1v1h-1zM404 627h1v1h-1zM458 627h1v1h-1zM513 627h1v1h-1zM534 627h1v1h-1zM563 627h1v1h-1zM599 627h1v1h-1zM50 628h1v1h-1zM55 628h1v1h-1zM68 628h1v1h-1zM108 628h1v1h-1zM265 628h1v1h-1zM299 628h1v1h-1zM307 628h1v1h-1zM347 628h1v1h-1zM404 628h1v1h-1zM458 628h1v1h-1zM513 628h1v1h-1zM534 628h1v1h-1zM563 628h1v1h-1zM599 628h1v1h-1zM50 629h1v1h-1zM55 629h1v1h-1zM68 629h1v1h-1zM108 629h1v1h-1zM265 629h1v1h-1zM299 629h2v1h-2zM307 629h1v1h-1zM347 629h1v1h-1zM404 629h1v1h-1zM459 629h1v1h-1zM513 629h1v1h-1zM534 629h1v1h-1zM563 629h1v1h-1zM599 629h1v1h-1zM50 630h1v1h-1zM54 630h1v1h-1zM68 630h1v1h-1zM107 630h1v1h-1zM266 630h1v1h-1zM299 630h1v1h-1zM301 630h1v1h-1zM306 630h1v1h-1zM347 630h1v1h-1zM404 630h1v1h-1zM460 630h1v1h-1zM513 630h1v1h-1zM534 630h1v1h-1zM562 630h1v1h-1zM51 631h1v1h-1zM53 631h1v1h-1zM68 631h1v1h-1zM107 631h1v1h-1zM266 631h1v1h-1zM299 631h1v1h-1zM302 631h1v1h-1zM304 631h2v1h-2zM347 631h1v1h-1zM403 631h1v1h-1zM461 631h1v1h-1zM513 631h1v1h-1zM534 631h1v1h-1zM562 631h1v1h-1zM51 632h2v1h-2zM68 632h1v1h-1zM107 632h1v1h-1zM266 632h1v1h-1zM298 632h1v1h-1zM303 632h1v1h-1zM347 632h1v1h-1zM403 632h1v1h-1zM462 632h1v1h-1zM512 632h1v1h-1zM534 632h1v1h-1zM562 632h1v1h-1zM51 633h1v1h-1zM68 633h1v1h-1zM107 633h1v1h-1zM266 633h1v1h-1zM298 633h1v1h-1zM347 633h1v1h-1zM403 633h1v1h-1zM463 633h3v1h-3zM512 633h1v1h-1zM535 633h1v1h-1zM562 633h1v1h-1zM68 634h1v1h-1zM106 634h1v1h-1zM267 634h1v1h-1zM298 634h1v1h-1zM347 634h1v1h-1zM403 634h1v1h-1zM466 634h2v1h-2zM512 634h1v1h-1zM535 634h1v1h-1zM562 634h1v1h-1zM68 635h1v1h-1zM106 635h1v1h-1zM267 635h1v1h-1zM298 635h1v1h-1zM347 635h1v1h-1zM403 635h1v1h-1zM467 635h1v1h-1zM512 635h1v1h-1zM535 635h1v1h-1zM561 635h1v1h-1zM69 636h1v1h-1zM106 636h1v1h-1zM267 636h1v1h-1zM298 636h1v1h-1zM347 636h1v1h-1zM402 636h1v1h-1zM467 636h1v1h-1zM512 636h1v1h-1zM535 636h1v1h-1zM561 636h1v1h-1zM69 637h1v1h-1zM106 637h1v1h-1zM267 637h1v1h-1zM298 637h1v1h-1zM348 637h1v1h-1zM402 637h1v1h-1zM467 637h1v1h-1zM512 637h1v1h-1zM535 637h1v1h-1zM561 637h1v1h-1zM69 638h1v1h-1zM105 638h1v1h-1zM267 638h1v1h-1zM297 638h1v1h-1zM348 638h1v1h-1zM402 638h1v1h-1zM468 638h1v1h-1zM512 638h1v1h-1zM535 638h1v1h-1zM561 638h1v1h-1zM69 639h1v1h-1zM105 639h1v1h-1zM268 639h1v1h-1zM297 639h1v1h-1zM348 639h1v1h-1zM402 639h1v1h-1zM468 639h1v1h-1zM512 639h1v1h-1zM535 639h1v1h-1zM561 639h1v1h-1zM69 640h1v1h-1zM105 640h1v1h-1zM268 640h1v1h-1zM297 640h1v1h-1zM348 640h1v1h-1zM402 640h1v1h-1zM468 640h1v1h-1zM512 640h1v1h-1zM536 640h1v1h-1zM560 640h1v1h-1zM69 641h1v1h-1zM105 641h1v1h-1zM268 641h1v1h-1zM297 641h1v1h-1zM348 641h1v1h-1zM402 641h1v1h-1zM468 641h1v1h-1zM512 641h1v1h-1zM536 641h1v1h-1zM560 641h1v1h-1zM69 642h1v1h-1zM104 642h1v1h-1zM268 642h1v1h-1zM297 642h1v1h-1zM348 642h1v1h-1zM401 642h1v1h-1zM468 642h1v1h-1zM511 642h1v1h-1zM536 642h1v1h-1zM560 642h1v1h-1zM69 643h1v1h-1zM104 643h1v1h-1zM268 643h1v1h-1zM297 643h1v1h-1zM348 643h1v1h-1zM401 643h1v1h-1zM468 643h1v1h-1zM511 643h1v1h-1zM536 643h1v1h-1zM560 643h1v1h-1zM70 644h1v1h-1zM104 644h1v1h-1zM269 644h1v1h-1zM296 644h1v1h-1zM348 644h1v1h-1zM401 644h1v1h-1zM469 644h1v1h-1zM511 644h1v1h-1zM536 644h1v1h-1zM560 644h1v1h-1zM70 645h1v1h-1zM104 645h1v1h-1zM269 645h1v1h-1zM296 645h1v1h-1zM348 645h1v1h-1zM401 645h1v1h-1zM469 645h1v1h-1zM511 645h1v1h-1zM536 645h1v1h-1zM559 645h1v1h-1zM70 646h1v1h-1zM103 646h1v1h-1zM269 646h1v1h-1zM296 646h1v1h-1zM348 646h1v1h-1zM401 646h1v1h-1zM469 646h1v1h-1zM511 646h1v1h-1zM537 646h1v1h-1zM559 646h1v1h-1zM70 647h1v1h-1zM103 647h1v1h-1zM269 647h1v1h-1zM296 647h1v1h-1zM349 647h1v1h-1zM400 647h1v1h-1zM469 647h1v1h-1zM495 647h1v1h-1zM511 647h1v1h-1zM537 647h1v1h-1zM559 647h1v1h-1zM70 648h1v1h-1zM103 648h1v1h-1zM269 648h1v1h-1zM296 648h1v1h-1zM349 648h1v1h-1zM400 648h1v1h-1zM469 648h1v1h-1zM495 648h1v1h-1zM511 648h1v1h-1zM537 648h1v1h-1zM559 648h1v1h-1zM70 649h1v1h-1zM103 649h1v1h-1zM270 649h1v1h-1zM296 649h1v1h-1zM349 649h1v1h-1zM400 649h1v1h-1zM469 649h1v1h-1zM494 649h1v1h-1zM496 649h1v1h-1zM510 649h1v1h-1zM537 649h1v1h-1zM558 649h1v1h-1zM70 650h1v1h-1zM103 650h1v1h-1zM270 650h1v1h-1zM295 650h1v1h-1zM349 650h1v1h-1zM400 650h1v1h-1zM469 650h1v1h-1zM494 650h1v1h-1zM496 650h1v1h-1zM510 650h1v1h-1zM537 650h1v1h-1zM558 650h1v1h-1zM70 651h1v1h-1zM102 651h1v1h-1zM270 651h1v1h-1zM295 651h1v1h-1zM349 651h1v1h-1zM400 651h1v1h-1zM470 651h1v1h-1zM493 651h1v1h-1zM497 651h1v1h-1zM510 651h1v1h-1zM537 651h1v1h-1zM557 651h1v1h-1zM70 652h1v1h-1zM102 652h1v1h-1zM270 652h1v1h-1zM295 652h1v1h-1zM349 652h1v1h-1zM400 652h1v1h-1zM470 652h1v1h-1zM493 652h1v1h-1zM497 652h1v1h-1zM510 652h1v1h-1zM538 652h1v1h-1zM557 652h1v1h-1zM71 653h1v1h-1zM102 653h1v1h-1zM270 653h1v1h-1zM295 653h1v1h-1zM349 653h1v1h-1zM399 653h1v1h-1zM470 653h1v1h-1zM493 653h1v1h-1zM497 653h1v1h-1zM510 653h1v1h-1zM538 653h1v1h-1zM557 653h1v1h-1zM71 654h1v1h-1zM102 654h1v1h-1zM271 654h1v1h-1zM295 654h1v1h-1zM349 654h1v1h-1zM399 654h1v1h-1zM470 654h1v1h-1zM492 654h1v1h-1zM498 654h1v1h-1zM509 654h1v1h-1zM538 654h1v1h-1zM556 654h1v1h-1zM71 655h1v1h-1zM102 655h1v1h-1zM271 655h1v1h-1zM294 655h1v1h-1zM349 655h1v1h-1zM399 655h1v1h-1zM470 655h1v1h-1zM492 655h1v1h-1zM498 655h1v1h-1zM509 655h1v1h-1zM538 655h1v1h-1zM556 655h1v1h-1zM71 656h1v1h-1zM101 656h1v1h-1zM271 656h1v1h-1zM294 656h1v1h-1zM349 656h1v1h-1zM399 656h1v1h-1zM470 656h1v1h-1zM491 656h1v1h-1zM499 656h1v1h-1zM509 656h1v1h-1zM538 656h1v1h-1zM555 656h1v1h-1zM71 657h1v1h-1zM101 657h1v1h-1zM271 657h1v1h-1zM294 657h1v1h-1zM350 657h1v1h-1zM399 657h1v1h-1zM471 657h1v1h-1zM491 657h1v1h-1zM499 657h1v1h-1zM509 657h1v1h-1zM538 657h1v1h-1zM555 657h1v1h-1zM71 658h1v1h-1zM101 658h1v1h-1zM271 658h1v1h-1zM293 658h1v1h-1zM350 658h1v1h-1zM398 658h1v1h-1zM471 658h1v1h-1zM491 658h1v1h-1zM499 658h1v1h-1zM509 658h1v1h-1zM539 658h1v1h-1zM555 658h1v1h-1zM72 659h1v1h-1zM101 659h1v1h-1zM272 659h1v1h-1zM293 659h1v1h-1zM350 659h1v1h-1zM398 659h1v1h-1zM471 659h1v1h-1zM490 659h1v1h-1zM500 659h1v1h-1zM509 659h1v1h-1zM539 659h1v1h-1zM554 659h1v1h-1zM72 660h1v1h-1zM101 660h1v1h-1zM272 660h1v1h-1zM292 660h1v1h-1zM350 660h1v1h-1zM398 660h1v1h-1zM471 660h1v1h-1zM490 660h1v1h-1zM500 660h1v1h-1zM508 660h1v1h-1zM539 660h1v1h-1zM554 660h1v1h-1zM72 661h1v1h-1zM101 661h1v1h-1zM272 661h1v1h-1zM292 661h1v1h-1zM350 661h1v1h-1zM398 661h1v1h-1zM471 661h1v1h-1zM490 661h1v1h-1zM500 661h1v1h-1zM508 661h1v1h-1zM539 661h1v1h-1zM554 661h1v1h-1zM73 662h1v1h-1zM100 662h1v1h-1zM272 662h1v1h-1zM292 662h1v1h-1zM350 662h1v1h-1zM398 662h1v1h-1zM472 662h1v1h-1zM490 662h1v1h-1zM501 662h1v1h-1zM508 662h1v1h-1zM539 662h1v1h-1zM554 662h1v1h-1zM73 663h1v1h-1zM100 663h1v1h-1zM272 663h1v1h-1zM283 663h1v1h-1zM291 663h1v1h-1zM350 663h1v1h-1zM397 663h1v1h-1zM472 663h1v1h-1zM489 663h1v1h-1zM501 663h1v1h-1zM508 663h1v1h-1zM540 663h1v1h-1zM553 663h1v1h-1zM73 664h1v1h-1zM100 664h1v1h-1zM273 664h1v1h-1zM282 664h2v1h-2zM291 664h1v1h-1zM350 664h1v1h-1zM397 664h1v1h-1zM473 664h1v1h-1zM489 664h1v1h-1zM502 664h1v1h-1zM508 664h1v1h-1zM540 664h1v1h-1zM553 664h1v1h-1zM74 665h1v1h-1zM100 665h1v1h-1zM273 665h1v1h-1zM281 665h1v1h-1zM284 665h1v1h-1zM291 665h1v1h-1zM350 665h1v1h-1zM382 665h2v1h-2zM397 665h1v1h-1zM473 665h1v1h-1zM489 665h1v1h-1zM502 665h1v1h-1zM507 665h1v1h-1zM540 665h1v1h-1zM553 665h1v1h-1zM74 666h1v1h-1zM100 666h1v1h-1zM273 666h1v1h-1zM280 666h1v1h-1zM284 666h1v1h-1zM290 666h1v1h-1zM350 666h1v1h-1zM379 666h3v1h-3zM383 666h1v1h-1zM397 666h1v1h-1zM473 666h1v1h-1zM488 666h1v1h-1zM502 666h1v1h-1zM507 666h1v1h-1zM540 666h1v1h-1zM552 666h1v1h-1zM74 667h1v1h-1zM99 667h1v1h-1zM273 667h1v1h-1zM279 667h1v1h-1zM284 667h1v1h-1zM290 667h1v1h-1zM351 667h1v1h-1zM379 667h1v1h-1zM384 667h1v1h-1zM397 667h1v1h-1zM474 667h1v1h-1zM488 667h1v1h-1zM503 667h1v1h-1zM506 667h2v1h-2zM541 667h1v1h-1zM552 667h1v1h-1zM75 668h1v1h-1zM99 668h1v1h-1zM273 668h1v1h-1zM279 668h1v1h-1zM284 668h1v1h-1zM290 668h1v1h-1zM351 668h1v1h-1zM378 668h1v1h-1zM384 668h1v1h-1zM397 668h1v1h-1zM474 668h1v1h-1zM488 668h1v1h-1zM503 668h3v1h-3zM541 668h1v1h-1zM552 668h1v1h-1zM75 669h1v1h-1zM99 669h1v1h-1zM273 669h1v1h-1zM278 669h1v1h-1zM285 669h1v1h-1zM289 669h1v1h-1zM351 669h1v1h-1zM378 669h1v1h-1zM384 669h1v1h-1zM396 669h1v1h-1zM475 669h1v1h-1zM488 669h1v1h-1zM541 669h1v1h-1zM552 669h1v1h-1zM75 670h1v1h-1zM98 670h1v1h-1zM274 670h1v1h-1zM278 670h1v1h-1zM285 670h1v1h-1zM289 670h1v1h-1zM351 670h1v1h-1zM378 670h1v1h-1zM385 670h1v1h-1zM396 670h1v1h-1zM475 670h1v1h-1zM487 670h1v1h-1zM541 670h1v1h-1zM551 670h1v1h-1zM75 671h1v1h-1zM97 671h1v1h-1zM274 671h1v1h-1zM277 671h1v1h-1zM285 671h1v1h-1zM289 671h1v1h-1zM351 671h1v1h-1zM378 671h1v1h-1zM385 671h1v1h-1zM396 671h1v1h-1zM475 671h1v1h-1zM487 671h1v1h-1zM542 671h1v1h-1zM551 671h1v1h-1zM76 672h1v1h-1zM91 672h2v1h-2zM97 672h1v1h-1zM274 672h1v1h-1zM277 672h1v1h-1zM286 672h1v1h-1zM289 672h1v1h-1zM351 672h2v1h-2zM377 672h1v1h-1zM386 672h1v1h-1zM396 672h1v1h-1zM476 672h1v1h-1zM487 672h1v1h-1zM542 672h1v1h-1zM550 672h1v1h-1zM76 673h1v1h-1zM89 673h2v1h-2zM93 673h2v1h-2zM96 673h1v1h-1zM274 673h1v1h-1zM277 673h1v1h-1zM286 673h1v1h-1zM288 673h1v1h-1zM353 673h2v1h-2zM377 673h1v1h-1zM386 673h1v1h-1zM396 673h1v1h-1zM476 673h1v1h-1zM486 673h1v1h-1zM542 673h1v1h-1zM550 673h1v1h-1zM76 674h1v1h-1zM87 674h2v1h-2zM95 674h1v1h-1zM274 674h1v1h-1zM276 674h1v1h-1zM286 674h1v1h-1zM288 674h1v1h-1zM355 674h1v1h-1zM377 674h1v1h-1zM386 674h1v1h-1zM395 674h1v1h-1zM477 674h1v1h-1zM486 674h1v1h-1zM542 674h1v1h-1zM549 674h1v1h-1zM76 675h1v1h-1zM85 675h2v1h-2zM275 675h2v1h-2zM286 675h1v1h-1zM288 675h1v1h-1zM355 675h1v1h-1zM376 675h1v1h-1zM387 675h1v1h-1zM395 675h1v1h-1zM477 675h1v1h-1zM486 675h1v1h-1zM543 675h1v1h-1zM548 675h1v1h-1zM77 676h1v1h-1zM83 676h2v1h-2zM275 676h1v1h-1zM287 676h1v1h-1zM356 676h1v1h-1zM363 676h1v1h-1zM376 676h1v1h-1zM387 676h1v1h-1zM395 676h1v1h-1zM477 676h1v1h-1zM485 676h1v1h-1zM543 676h3v1h-3zM548 676h1v1h-1zM77 677h1v1h-1zM83 677h1v1h-1zM275 677h1v1h-1zM287 677h1v1h-1zM356 677h1v1h-1zM362 677h2v1h-2zM376 677h1v1h-1zM388 677h2v1h-2zM394 677h1v1h-1zM478 677h1v1h-1zM485 677h1v1h-1zM546 677h2v1h-2zM77 678h1v1h-1zM82 678h1v1h-1zM357 678h1v1h-1zM362 678h1v1h-1zM364 678h1v1h-1zM376 678h1v1h-1zM390 678h1v1h-1zM392 678h2v1h-2zM478 678h1v1h-1zM485 678h1v1h-1zM77 679h1v1h-1zM82 679h1v1h-1zM357 679h1v1h-1zM361 679h1v1h-1zM364 679h1v1h-1zM375 679h1v1h-1zM391 679h1v1h-1zM479 679h1v1h-1zM484 679h1v1h-1zM78 680h1v1h-1zM81 680h1v1h-1zM358 680h1v1h-1zM360 680h1v1h-1zM364 680h1v1h-1zM375 680h1v1h-1zM479 680h1v1h-1zM484 680h1v1h-1zM78 681h1v1h-1zM81 681h1v1h-1zM358 681h1v1h-1zM360 681h1v1h-1zM365 681h1v1h-1zM373 681h2v1h-2zM480 681h2v1h-2zM484 681h1v1h-1zM78 682h1v1h-1zM80 682h1v1h-1zM359 682h1v1h-1zM365 682h1v1h-1zM371 682h2v1h-2zM482 682h2v1h-2zM78 683h1v1h-1zM80 683h1v1h-1zM365 683h1v1h-1zM370 683h1v1h-1zM483 683h1v1h-1zM79 684h1v1h-1zM366 684h1v1h-1zM370 684h1v1h-1zM79 685h1v1h-1zM366 685h1v1h-1zM369 685h1v1h-1zM366 686h1v1h-1zM368 686h1v1h-1zM367 687h2v1h-2zM367 688h1v1h-1z"/>
</g>
<g shape-rendering="crispEdges" fill="none" stroke="#000" stroke-width="1">
<path d="M2.5 354.5V2.5H674.5"/>
<path d="M2.5 354.5H674.5"/>
<path d="M2.5 531.5V356.5H674.5"/>
<path d="M2.5 531.5H674.5"/>
<path d="M2.5 707.5V533.5H674.5"/>
<path d="M2.5 707.5H674.5"/>
<path d="M674.5 2V355"/>
<path d="M674.5 356V532"/>
<path d="M674.5 533V708"/>
<path d="M675 32.5H677"/>
<path d="M675 64.5H677"/>
<path d="M675 96.5H677"/>
<path d="M675 128.5H677"/>
<path d="M675 160.5H677"/>
<path d="M675 192.5H677"/>
<path d="M675 224.5H677"/>
<path d="M675 256.5H677"/>
<path d="M675 288.5H677"/>
<path d="M675 320.5H677"/>
<path d="M675 352.5H677"/>
<path d="M675 358.5H676"/>
<path d="M675 474.5H676"/>
<path d="M675 530.5H676"/>
<path d="M675 534.5H676"/>
<path d="M675 569.5H676"/>
<path d="M675 672.5H676"/>
<path d="M675 706.5H676"/>
<path d="M3.5 708V711"/>
<path d="M67.5 708V711"/>
<path d="M131.5 708V711"/>
<path d="M195.5 708V711"/>
<path d="M259.5 708V711"/>
<path d="M323.5 708V711"/>
<path d="M387.5 708V711"/>
<path d="M451.5 708V711"/>
<path d="M515.5 708V711"/>
<path d="M579.5 708V711"/>
</g>
<text transform="translate(680,35.0) scale(0.900,1)" fill="#000" stroke="#000" stroke-width="0.12" font-size="10" >84.040</text>
<text transform="translate(680,67.0) scale(0.900,1)" fill="#000" stroke="#000" stroke-width="0.12" font-size="10" >83.685</text>
<text transform="translate(680,99.0) scale(0.900,1)" fill="#000" stroke="#000" stroke-width="0.12" font-size="10" >83.330</text>
<text transform="translate(680,131.0) scale(0.900,1)" fill="#000" stroke="#000" stroke-width="0.12" font-size="10" >82.980</text>
<text transform="translate(680,163.0) scale(0.900,1)" fill="#000" stroke="#000" stroke-width="0.12" font-size="10" >82.620</text>
<text transform="translate(680,195.0) scale(0.900,1)" fill="#000" stroke="#000" stroke-width="0.12" font-size="10" >82.270</text>
<text transform="translate(680,227.0) scale(0.900,1)" fill="#000" stroke="#000" stroke-width="0.12" font-size="10" >81.920</text>
<text transform="translate(680,259.0) scale(0.900,1)" fill="#000" stroke="#000" stroke-width="0.12" font-size="10" >81.570</text>
<text transform="translate(680,291.0) scale(0.900,1)" fill="#000" stroke="#000" stroke-width="0.12" font-size="10" >81.210</text>
<text transform="translate(680,323.0) scale(0.900,1)" fill="#000" stroke="#000" stroke-width="0.12" font-size="10" >80.850</text>
<text transform="translate(680,355.0) scale(0.900,1)" fill="#000" stroke="#000" stroke-width="0.12" font-size="10" >80.500</text>
<rect x="676" y="188" width="36" height="11" fill="#000"/>
<text transform="translate(680,197.0) scale(0.900,1)" fill="#fff" stroke="#fff" stroke-width="0.12" font-size="10" >82.249</text>
<rect x="676" y="16" width="36" height="11" fill="#008080"/>
<text transform="translate(680,25.0) scale(0.900,1)" fill="#fff" stroke="#fff" stroke-width="0.12" font-size="10" >84.150</text>
<rect x="676" y="57" width="36" height="11" fill="#008080"/>
<text transform="translate(680,66.0) scale(0.900,1)" fill="#fff" stroke="#fff" stroke-width="0.12" font-size="10" >83.700</text>
<rect x="676" y="102" width="36" height="11" fill="#008080"/>
<text transform="translate(680,111.0) scale(0.900,1)" fill="#fff" stroke="#fff" stroke-width="0.12" font-size="10" >83.200</text>
<rect x="676" y="134" width="36" height="11" fill="#008080"/>
<text transform="translate(680,143.0) scale(0.900,1)" fill="#fff" stroke="#fff" stroke-width="0.12" font-size="10" >82.850</text>
<rect x="676" y="165" width="36" height="11" fill="#008080"/>
<text transform="translate(680,174.0) scale(0.900,1)" fill="#fff" stroke="#fff" stroke-width="0.12" font-size="10" >82.500</text>
<rect x="676" y="183" width="36" height="11" fill="#008080"/>
<text transform="translate(680,192.0) scale(0.900,1)" fill="#fff" stroke="#fff" stroke-width="0.12" font-size="10" >82.300</text>
<rect x="676" y="206" width="36" height="11" fill="#008080"/>
<text transform="translate(680,215.0) scale(0.900,1)" fill="#fff" stroke="#fff" stroke-width="0.12" font-size="10" >82.050</text>
<rect x="676" y="224" width="36" height="11" fill="#008080"/>
<text transform="translate(680,233.0) scale(0.900,1)" fill="#fff" stroke="#fff" stroke-width="0.12" font-size="10" >81.850</text>
<rect x="676" y="251" width="36" height="11" fill="#008080"/>
<text transform="translate(680,260.0) scale(0.900,1)" fill="#fff" stroke="#fff" stroke-width="0.12" font-size="10" >81.550</text>
<rect x="676" y="278" width="36" height="11" fill="#008080"/>
<text transform="translate(680,287.0) scale(0.900,1)" fill="#fff" stroke="#fff" stroke-width="0.12" font-size="10" >81.250</text>
<rect x="676" y="301" width="36" height="11" fill="#008080"/>
<text transform="translate(680,310.0) scale(0.900,1)" fill="#fff" stroke="#fff" stroke-width="0.12" font-size="10" >81.000</text>
<rect x="676" y="337" width="36" height="11" fill="#008080"/>
<text transform="translate(680,346.0) scale(0.900,1)" fill="#fff" stroke="#fff" stroke-width="0.12" font-size="10" >80.600</text>
<text transform="translate(678,367.0) scale(0.900,1)" fill="#000" stroke="#000" stroke-width="0.12" font-size="10" >0.6107</text>
<text transform="translate(678,477.0) scale(0.900,1)" fill="#000" stroke="#000" stroke-width="0.12" font-size="10" >0.00</text>
<text x="678" y="528.0" fill="#000" stroke="#000" stroke-width="0.12" font-size="10" textLength="28.6" lengthAdjust="spacingAndGlyphs" >-0.2951</text>
<text transform="translate(678,543.5) scale(0.900,1)" fill="#000" stroke="#000" stroke-width="0.12" font-size="10" >100</text>
<text transform="translate(677.5,572.0) scale(0.900,1)" fill="#000" stroke="#000" stroke-width="0.12" font-size="10" >80</text>
<text transform="translate(677.5,675.0) scale(0.900,1)" fill="#000" stroke="#000" stroke-width="0.12" font-size="10" >20</text>
<text transform="translate(678,703.0) scale(0.900,1)" fill="#000" stroke="#000" stroke-width="0.12" font-size="10" >0</text>
<text x="8" y="13.9" fill="#000" stroke="#000" stroke-width="0.12" font-size="10" textLength="177" lengthAdjust="spacingAndGlyphs" >USDJPY,H4&#160; 82.284 82.284 82.183 82.249</text>
<text x="227" y="14.0" fill="#0000ff" stroke="#0000ff" stroke-width="0.12" font-size="10.6" textLength="151" lengthAdjust="spacingAndGlyphs" >Двойная вершина (Double Top)</text>
<text x="7.6" y="369.9" fill="#000" stroke="#000" stroke-width="0.12" font-size="10" textLength="132.7" lengthAdjust="spacingAndGlyphs" >MACD(12,26,9) -0.0494 -0.0367</text>
<text x="7.6" y="547.0" fill="#000" stroke="#000" stroke-width="0.12" font-size="10" textLength="125.6" lengthAdjust="spacingAndGlyphs" >Stoch(13,3,3) 44.3525 54.2605</text>
<text x="6.3" y="701.9" fill="#000" stroke="#000" stroke-width="0.12" font-size="10" textLength="238" lengthAdjust="spacingAndGlyphs" >FxPro MT4, © 2001-2011 MetaQuotes Software Corp.</text>
<text x="2.7" y="719.8" fill="#000" stroke="#000" stroke-width="0.12" font-size="10" textLength="46" lengthAdjust="spacingAndGlyphs" >1 Mar 2012</text>
<text x="66.7" y="719.8" fill="#000" stroke="#000" stroke-width="0.12" font-size="10" textLength="49.6" lengthAdjust="spacingAndGlyphs" >6 Mar 04:00</text>
<text x="130.7" y="719.8" fill="#000" stroke="#000" stroke-width="0.12" font-size="10" textLength="49.6" lengthAdjust="spacingAndGlyphs" >8 Mar 20:00</text>
<text x="194.7" y="719.8" fill="#000" stroke="#000" stroke-width="0.12" font-size="10" textLength="54.2" lengthAdjust="spacingAndGlyphs" >13 Mar 12:00</text>
<text x="258.7" y="719.8" fill="#000" stroke="#000" stroke-width="0.12" font-size="10" textLength="54.2" lengthAdjust="spacingAndGlyphs" >16 Mar 04:00</text>
<text x="322.7" y="719.8" fill="#000" stroke="#000" stroke-width="0.12" font-size="10" textLength="54.2" lengthAdjust="spacingAndGlyphs" >20 Mar 20:00</text>
<text x="386.7" y="719.8" fill="#000" stroke="#000" stroke-width="0.12" font-size="10" textLength="54.2" lengthAdjust="spacingAndGlyphs" >23 Mar 12:00</text>
<text x="450.7" y="719.8" fill="#000" stroke="#000" stroke-width="0.12" font-size="10" textLength="54.2" lengthAdjust="spacingAndGlyphs" >28 Mar 04:00</text>
<text x="514.7" y="719.8" fill="#000" stroke="#000" stroke-width="0.12" font-size="10" textLength="54.2" lengthAdjust="spacingAndGlyphs" >30 Mar 20:00</text>
<text x="578.7" y="719.8" fill="#000" stroke="#000" stroke-width="0.12" font-size="10" textLength="49.6" lengthAdjust="spacingAndGlyphs" >4 Apr 12:00</text>
</svg></body></html>
